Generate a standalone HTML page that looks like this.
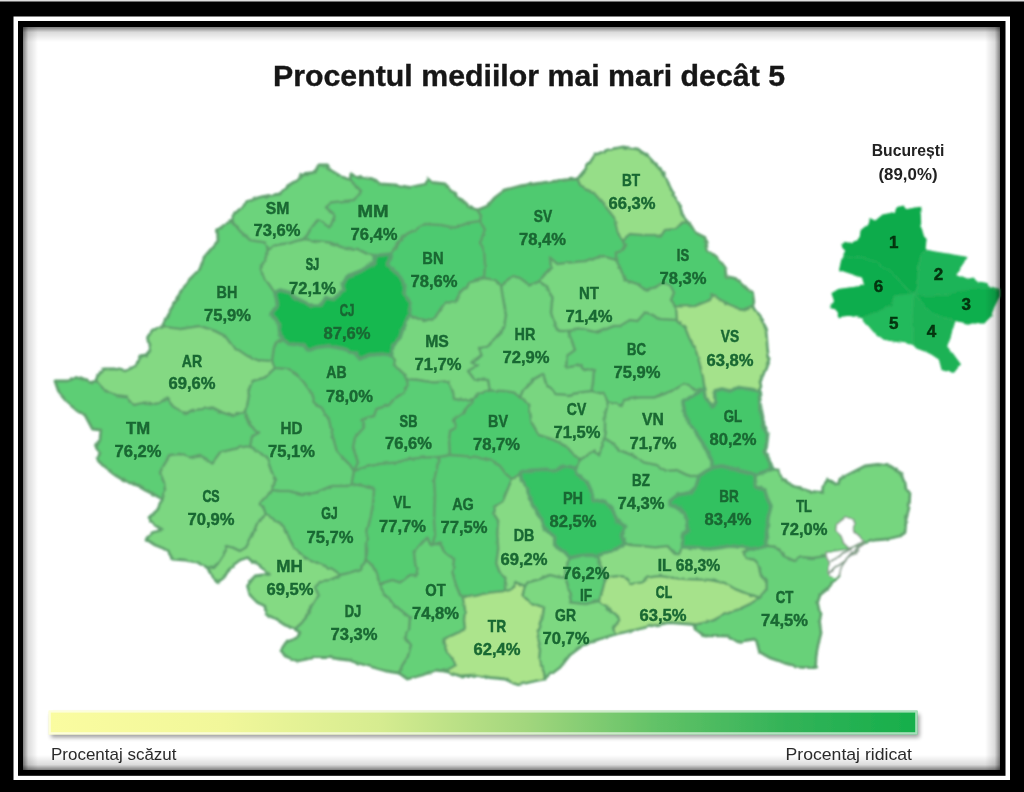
<!DOCTYPE html>
<html><head><meta charset="utf-8"><title>Procentul mediilor mai mari decat 5</title>
<style>
html,body{margin:0;padding:0;background:#000;}
body{width:1024px;height:792px;overflow:hidden;position:relative;font-family:"Liberation Sans",sans-serif;}
svg{position:absolute;left:0;top:0;display:block;}
text{font-family:"Liberation Sans",sans-serif;}
.c{font-weight:bold;font-size:17px;fill:#1a6833;stroke:#1a6833;stroke-width:0.45px;text-anchor:middle;}
.p{font-weight:bold;font-size:17px;fill:#1a6833;stroke:#1a6833;stroke-width:0.45px;text-anchor:middle;}
.n{font-weight:bold;font-size:17px;fill:#07340f;stroke:#07340f;stroke-width:0.5px;text-anchor:middle;}
</style></head><body>
<svg width="1024" height="792" viewBox="0 0 1024 792">
<defs>
<linearGradient id="lg" x1="0" x2="1" y1="0" y2="0">
<stop offset="0" stop-color="#fafca0"/><stop offset="0.2" stop-color="#f1f79a"/><stop offset="0.38" stop-color="#d6ec90"/>
<stop offset="0.55" stop-color="#a2d67d"/><stop offset="0.7" stop-color="#62c267"/><stop offset="0.85" stop-color="#33b358"/><stop offset="1" stop-color="#16af4b"/>
</linearGradient>
<linearGradient id="sT" x1="0" x2="0" y1="0" y2="1"><stop offset="0" stop-color="#000" stop-opacity="0.5"/><stop offset="0.35" stop-color="#000" stop-opacity="0.14"/><stop offset="1" stop-color="#000" stop-opacity="0"/></linearGradient>
<linearGradient id="sB" x1="0" x2="0" y1="1" y2="0"><stop offset="0" stop-color="#000" stop-opacity="0.5"/><stop offset="0.35" stop-color="#000" stop-opacity="0.14"/><stop offset="1" stop-color="#000" stop-opacity="0"/></linearGradient>
<linearGradient id="sL" x1="0" x2="1" y1="0" y2="0"><stop offset="0" stop-color="#000" stop-opacity="0.5"/><stop offset="0.35" stop-color="#000" stop-opacity="0.14"/><stop offset="1" stop-color="#000" stop-opacity="0"/></linearGradient>
<linearGradient id="sR" x1="1" x2="0" y1="0" y2="0"><stop offset="0" stop-color="#000" stop-opacity="0.5"/><stop offset="0.35" stop-color="#000" stop-opacity="0.14"/><stop offset="1" stop-color="#000" stop-opacity="0"/></linearGradient>
<filter id="bl" x="-5%" y="-5%" width="110%" height="110%"><feTurbulence type="fractalNoise" baseFrequency="0.11" numOctaves="2" seed="7" result="n"/><feDisplacementMap in="SourceGraphic" in2="n" scale="3.2" xChannelSelector="R" yChannelSelector="G" result="d"/><feGaussianBlur in="d" stdDeviation="0.85"/></filter>
<filter id="bt" x="-5%" y="-20%" width="110%" height="140%"><feGaussianBlur stdDeviation="0.45"/></filter>
<filter id="sh" x="-5%" y="-50%" width="110%" height="250%"><feGaussianBlur stdDeviation="2"/></filter>
</defs>
<!-- frame -->
<rect x="0" y="0" width="1024" height="792" fill="#000"/>
<rect x="0" y="0" width="1024" height="1.5" fill="#ddd"/>
<rect x="13.5" y="16.5" width="996.5" height="763.5" fill="#fff"/>
<rect x="18" y="21" width="987.5" height="754.8" fill="#000"/>
<rect x="23" y="27" width="977" height="743" fill="#fff"/>
<text x="529" y="86.2" text-anchor="middle" font-weight="bold" font-size="29.8px" fill="#161616" stroke="#161616" stroke-width="0.35" textLength="512" lengthAdjust="spacingAndGlyphs" filter="url(#bt)">Procentul mediilor mai mari decât 5</text>
<g filter="url(#bl)">
<path d="M231.0 220.0 L232.5 216.0 L247.5 202.0 L260.0 197.0 L280.0 194.0 L287.5 186.0 L299.0 179.0 L301.0 174.0 L315.0 172.5 L319.0 165.0 L327.5 165.0 L330.0 170.0 L340.0 176.0 L350.0 180.0 L361.0 191.0 L354.0 200.0 L330.0 202.5 L326.0 207.5 L335.0 215.0 L330.0 227.5 L317.5 220.0 L310.0 230.0 L305.0 239.0 L290.0 243.0 L275.0 245.0 L269.0 250.0 L265.0 242.5 L250.0 240.0 L240.0 231.0Z" fill="#6cd37b" stroke="#6cd37b" stroke-width="0.8" stroke-linejoin="round"/>
<path d="M350.0 180.0 L351.0 174.0 L355.0 176.0 L372.5 179.0 L380.0 184.0 L395.0 185.0 L410.0 187.5 L425.0 184.0 L429.0 179.0 L432.5 182.5 L445.0 184.0 L455.0 194.0 L465.0 202.5 L470.0 207.5 L477.5 210.0 L481.0 216.0 L480.0 221.0 L470.0 222.5 L455.0 227.5 L440.0 225.0 L425.0 224.0 L415.0 230.0 L402.5 236.0 L397.5 245.0 L391.0 254.0 L376.0 255.5 L367.5 254.0 L357.5 249.0 L342.5 247.5 L330.0 242.5 L315.0 241.0 L305.0 239.0 L310.0 230.0 L317.5 220.0 L330.0 227.5 L335.0 215.0 L326.0 207.5 L330.0 202.5 L354.0 200.0 L361.0 191.0Z" fill="#5cce75" stroke="#5cce75" stroke-width="0.8" stroke-linejoin="round"/>
<path d="M477.5 210.0 L487.5 206.0 L495.0 197.5 L505.0 190.0 L520.0 186.0 L545.0 182.5 L570.0 179.5 L577.5 179.0 L580.0 185.0 L595.0 194.0 L605.0 206.0 L614.0 217.5 L617.5 232.5 L622.5 240.0 L626.0 245.0 L622.5 251.0 L616.0 252.5 L616.0 260.0 L607.5 257.5 L600.0 256.0 L585.0 261.0 L570.0 262.5 L557.5 264.0 L550.0 257.5 L551.0 267.5 L544.0 275.0 L540.0 281.0 L530.0 285.5 L520.0 278.0 L512.5 276.0 L501.0 285.0 L495.0 280.0 L484.0 278.0 L485.0 265.0 L484.0 250.0 L480.0 242.5 L485.0 230.0 L480.0 221.0 L481.0 216.0Z" fill="#50ca6f" stroke="#50ca6f" stroke-width="0.8" stroke-linejoin="round"/>
<path d="M577.5 179.0 L585.0 170.0 L590.0 162.5 L595.0 155.0 L607.5 150.0 L622.5 147.0 L637.5 149.0 L647.5 156.0 L656.0 165.0 L665.0 175.0 L670.0 187.5 L679.0 204.0 L682.5 215.0 L689.0 222.5 L682.5 222.5 L676.0 229.0 L665.0 230.0 L660.0 237.5 L655.0 235.0 L642.5 235.0 L630.0 234.0 L622.5 240.0 L617.5 232.5 L614.0 217.5 L605.0 206.0 L595.0 194.0 L580.0 185.0Z" fill="#96de88" stroke="#96de88" stroke-width="0.8" stroke-linejoin="round"/>
<path d="M689.0 222.5 L695.0 232.5 L705.0 237.5 L707.5 250.0 L717.5 257.5 L725.0 267.5 L726.0 276.0 L736.0 279.0 L745.0 287.5 L752.5 292.5 L754.0 303.0 L752.5 306.0 L742.5 310.0 L732.5 306.0 L722.5 301.0 L712.5 295.0 L710.0 300.0 L695.0 306.0 L676.0 306.5 L671.0 300.0 L674.0 292.5 L670.0 285.0 L664.0 282.5 L655.0 287.5 L645.0 290.0 L637.5 284.0 L625.0 280.0 L620.0 267.5 L616.0 260.0 L616.0 252.5 L622.5 251.0 L626.0 245.0 L622.5 240.0 L630.0 234.0 L642.5 235.0 L655.0 235.0 L660.0 237.5 L665.0 230.0 L676.0 229.0 L682.5 222.5Z" fill="#50cb6f" stroke="#50cb6f" stroke-width="0.8" stroke-linejoin="round"/>
<path d="M752.5 306.0 L754.0 309.0 L762.5 320.0 L766.0 330.0 L767.5 350.0 L769.0 359.0 L764.0 372.5 L760.0 382.5 L761.0 386.0 L759.0 391.0 L750.0 389.0 L737.5 387.5 L730.0 391.0 L722.0 389.0 L714.5 391.0 L715.0 401.0 L712.0 406.0 L708.5 403.0 L706.0 396.0 L704.5 389.0 L703.0 377.5 L700.0 365.0 L696.5 352.5 L689.0 337.5 L685.0 327.5 L677.0 320.0 L676.0 306.5 L695.0 306.0 L710.0 300.0 L712.5 295.0 L722.5 301.0 L732.5 306.0 L742.5 310.0Z" fill="#a4e28b" stroke="#a4e28b" stroke-width="0.8" stroke-linejoin="round"/>
<path d="M759.0 391.0 L760.0 405.0 L762.5 417.5 L764.0 427.5 L767.5 435.0 L766.0 447.5 L764.0 451.0 L769.0 460.0 L772.5 469.0 L764.0 472.0 L755.0 475.0 L746.5 472.5 L734.0 469.0 L721.5 466.0 L713.0 467.5 L711.5 460.0 L704.0 445.0 L694.0 430.0 L685.0 415.0 L683.0 401.0 L694.0 395.0 L704.5 389.0 L706.0 396.0 L708.5 403.0 L712.0 406.0 L715.0 401.0 L714.5 391.0 L722.0 389.0 L730.0 391.0 L737.5 387.5 L750.0 389.0Z" fill="#45c76a" stroke="#45c76a" stroke-width="0.8" stroke-linejoin="round"/>
<path d="M772.5 469.0 L777.5 470.0 L782.5 480.0 L795.0 486.5 L810.0 491.5 L822.5 492.5 L823.0 486.0 L827.5 480.0 L838.0 485.0 L840.0 479.0 L852.5 472.5 L865.0 466.0 L877.5 464.5 L890.0 466.0 L900.0 472.5 L905.0 482.5 L906.0 490.0 L910.0 492.5 L909.0 507.5 L906.0 520.0 L905.0 532.5 L900.0 536.0 L887.5 539.0 L875.0 540.0 L865.0 542.5 L859.0 547.0 L854.0 555.0 L847.0 561.0 L841.0 566.0 L829.0 554.0 L825.0 556.0 L813.0 558.0 L801.0 557.0 L795.0 561.0 L788.9 559.0 L782.8 554.0 L775.0 546.5 L766.0 546.0 L766.5 535.0 L768.0 517.5 L771.0 506.0 L767.0 498.0 L765.0 490.0 L755.5 487.0 L755.0 475.0 L764.0 472.0Z" fill="#76d67f" stroke="#76d67f" stroke-width="0.8" stroke-linejoin="round"/>
<path d="M841.0 566.0 L839.0 576.0 L832.5 582.5 L827.5 589.0 L820.0 595.0 L817.5 602.5 L819.0 610.0 L821.0 615.0 L819.5 621.0 L821.0 633.0 L818.0 645.0 L816.0 657.0 L815.5 667.5 L801.0 667.3 L785.0 663.0 L770.7 658.2 L759.6 652.1 L756.6 641.0 L754.5 639.0 L745.0 640.5 L738.4 642.0 L728.3 636.0 L714.1 635.5 L705.0 636.0 L696.0 630.0 L695.0 624.5 L712.0 620.8 L724.0 614.7 L740.0 608.7 L750.0 604.0 L760.0 597.5 L766.7 588.5 L766.7 583.0 L760.6 574.0 L758.6 564.0 L754.5 560.0 L745.5 558.0 L743.5 553.0 L750.0 549.0 L758.0 548.0 L766.0 546.0 L775.0 546.5 L782.8 554.0 L788.9 559.0 L795.0 561.0 L801.0 557.0 L813.0 558.0 L825.0 556.0 L829.0 554.0Z" fill="#67d179" stroke="#67d179" stroke-width="0.8" stroke-linejoin="round"/>
<path d="M695.0 624.5 L670.0 622.5 L655.0 625.0 L635.0 630.0 L616.0 634.0 L614.0 627.5 L620.0 619.0 L612.5 612.5 L606.0 606.0 L599.0 601.0 L602.5 590.0 L605.0 580.0 L607.0 577.5 L617.5 576.0 L627.5 579.0 L631.0 584.0 L642.5 582.5 L647.5 577.5 L660.0 576.0 L670.0 577.5 L685.0 579.0 L710.0 580.0 L725.0 583.0 L735.0 589.0 L747.5 594.0 L760.0 597.5 L750.0 604.0 L740.0 608.7 L724.0 614.7 L712.0 620.8Z" fill="#a6e28b" stroke="#a6e28b" stroke-width="0.8" stroke-linejoin="round"/>
<path d="M616.0 634.0 L605.0 637.5 L592.5 641.0 L580.0 647.5 L570.0 655.0 L560.0 667.5 L550.0 675.0 L545.0 679.0 L544.0 672.5 L539.0 660.0 L540.0 650.0 L537.5 640.0 L539.0 630.0 L542.5 617.5 L544.0 607.5 L530.0 602.5 L522.5 595.0 L525.0 586.0 L527.5 582.5 L540.0 579.0 L550.0 575.0 L560.0 577.5 L565.0 577.5 L569.0 590.0 L571.0 602.5 L585.0 604.0 L599.0 601.0 L606.0 606.0 L612.5 612.5 L620.0 619.0 L614.0 627.5Z" fill="#7dd881" stroke="#7dd881" stroke-width="0.8" stroke-linejoin="round"/>
<path d="M545.0 679.0 L535.0 681.0 L517.5 685.0 L505.0 679.0 L490.0 677.5 L475.0 675.0 L460.0 676.0 L445.0 671.0 L447.5 670.0 L456.0 665.0 L446.0 650.0 L444.0 639.0 L455.0 634.0 L465.0 629.0 L464.0 620.0 L465.0 610.0 L462.5 596.0 L475.0 596.0 L490.0 592.5 L505.0 591.0 L510.0 590.0 L516.0 582.5 L525.0 586.0 L522.5 595.0 L530.0 602.5 L544.0 607.5 L542.5 617.5 L539.0 630.0 L537.5 640.0 L540.0 650.0 L539.0 660.0 L544.0 672.5Z" fill="#ace48c" stroke="#ace48c" stroke-width="0.8" stroke-linejoin="round"/>
<path d="M445.0 671.0 L435.0 670.0 L422.5 675.0 L407.5 679.0 L399.0 673.0 L402.5 665.0 L407.5 657.5 L411.0 645.0 L405.0 637.5 L409.0 630.0 L410.0 617.5 L397.5 607.5 L385.0 595.0 L379.0 584.0 L392.5 580.0 L400.0 582.5 L410.0 575.0 L417.5 575.0 L415.0 562.5 L414.0 552.5 L420.0 545.0 L427.5 537.5 L430.0 544.0 L432.5 545.0 L440.0 542.5 L445.0 552.5 L454.0 559.0 L452.5 572.5 L456.0 585.0 L460.0 595.0 L462.5 596.0 L465.0 610.0 L464.0 620.0 L465.0 629.0 L455.0 634.0 L444.0 639.0 L446.0 650.0 L456.0 665.0 L447.5 670.0Z" fill="#65d178" stroke="#65d178" stroke-width="0.8" stroke-linejoin="round"/>
<path d="M399.0 673.0 L386.0 671.0 L365.0 665.0 L347.5 660.0 L330.0 657.5 L315.0 657.5 L297.5 661.0 L285.0 656.0 L281.0 650.0 L286.0 642.5 L297.5 637.5 L300.0 632.5 L295.0 629.0 L305.0 620.0 L309.0 610.0 L315.0 600.0 L319.0 595.0 L315.0 587.5 L321.0 581.0 L330.0 580.0 L341.0 575.0 L350.0 572.5 L361.0 569.0 L366.0 560.0 L372.0 565.0 L377.5 575.0 L379.0 584.0 L385.0 595.0 L397.5 607.5 L410.0 617.5 L409.0 630.0 L405.0 637.5 L411.0 645.0 L407.5 657.5 L402.5 665.0Z" fill="#6ed37c" stroke="#6ed37c" stroke-width="0.8" stroke-linejoin="round"/>
<path d="M295.0 629.0 L285.0 625.0 L277.5 620.0 L266.0 614.0 L265.0 606.0 L257.5 602.5 L250.0 595.0 L247.5 586.0 L250.0 582.5 L255.0 576.0 L262.5 575.0 L270.0 575.0 L265.0 570.0 L255.0 562.5 L247.5 557.5 L240.0 560.0 L230.0 567.5 L224.0 577.5 L217.5 582.5 L212.5 577.5 L207.5 567.5 L214.0 568.0 L217.5 564.0 L224.0 554.0 L226.0 546.0 L232.5 547.5 L240.0 551.0 L246.0 547.5 L252.5 535.0 L257.5 522.5 L266.0 514.5 L275.0 520.0 L285.0 527.5 L290.0 540.0 L295.0 549.0 L305.0 557.5 L320.0 564.0 L332.5 569.0 L341.0 575.0 L330.0 580.0 L321.0 581.0 L315.0 587.5 L319.0 595.0 L315.0 600.0 L309.0 610.0 L305.0 620.0Z" fill="#84da83" stroke="#84da83" stroke-width="0.8" stroke-linejoin="round"/>
<path d="M207.5 567.5 L197.5 562.5 L185.0 560.0 L172.5 559.0 L167.5 550.0 L155.0 545.0 L146.0 539.0 L152.5 532.5 L162.5 530.0 L155.0 525.0 L149.0 517.5 L157.5 510.0 L162.5 499.0 L165.0 490.0 L164.0 482.5 L160.0 472.5 L164.0 465.0 L170.0 455.0 L180.0 454.0 L190.0 457.5 L200.0 455.0 L205.0 460.0 L212.5 462.5 L220.0 452.5 L230.0 450.0 L240.0 447.5 L250.0 446.0 L260.0 452.5 L267.5 460.0 L271.0 470.0 L275.0 480.0 L272.5 490.0 L265.0 497.5 L260.0 503.0 L264.0 509.0 L266.0 514.5 L257.5 522.5 L252.5 535.0 L246.0 547.5 L240.0 551.0 L232.5 547.5 L226.0 546.0 L224.0 554.0 L217.5 564.0 L214.0 568.0Z" fill="#7cd781" stroke="#7cd781" stroke-width="0.8" stroke-linejoin="round"/>
<path d="M162.5 499.0 L155.0 495.0 L145.0 490.0 L132.5 482.5 L125.0 481.0 L115.0 475.0 L105.0 467.5 L97.5 460.0 L100.0 452.5 L96.0 447.5 L100.0 440.0 L101.0 430.0 L92.5 429.0 L85.0 415.0 L77.5 411.0 L67.5 402.5 L59.0 392.5 L55.0 381.0 L67.5 381.0 L77.5 377.5 L90.0 382.5 L96.0 381.0 L105.0 390.0 L115.0 396.0 L127.5 397.5 L134.0 405.0 L145.0 402.5 L157.5 404.0 L167.5 397.5 L172.5 406.0 L180.0 411.0 L185.0 414.0 L192.5 410.0 L202.5 409.0 L212.5 407.5 L222.5 412.5 L232.5 416.0 L245.0 411.0 L246.0 417.5 L252.5 427.5 L259.0 432.5 L252.5 436.0 L250.0 446.0 L240.0 447.5 L230.0 450.0 L220.0 452.5 L212.5 462.5 L205.0 460.0 L200.0 455.0 L190.0 457.5 L180.0 454.0 L170.0 455.0 L164.0 465.0 L160.0 472.5 L164.0 482.5 L165.0 490.0Z" fill="#5dce75" stroke="#5dce75" stroke-width="0.8" stroke-linejoin="round"/>
<path d="M96.0 381.0 L97.5 377.5 L102.5 369.0 L115.0 369.0 L125.0 371.0 L136.0 366.0 L140.0 356.0 L146.0 355.0 L150.0 350.0 L147.5 337.5 L152.5 330.0 L160.0 328.0 L165.0 327.0 L180.0 329.0 L200.0 326.0 L215.0 331.0 L225.0 336.0 L232.5 346.0 L247.5 356.0 L257.5 360.0 L272.0 361.0 L275.0 368.0 L265.0 377.5 L252.5 381.0 L247.5 392.5 L249.0 402.5 L245.0 411.0 L232.5 416.0 L222.5 412.5 L212.5 407.5 L202.5 409.0 L192.5 410.0 L185.0 414.0 L180.0 411.0 L172.5 406.0 L167.5 397.5 L157.5 404.0 L145.0 402.5 L134.0 405.0 L127.5 397.5 L115.0 396.0 L105.0 390.0Z" fill="#84d983" stroke="#84d983" stroke-width="0.8" stroke-linejoin="round"/>
<path d="M165.0 327.0 L162.5 325.0 L167.5 315.0 L176.0 301.0 L185.0 284.0 L200.0 269.0 L204.0 257.5 L218.0 241.0 L217.5 230.0 L231.0 220.0 L240.0 231.0 L250.0 240.0 L265.0 242.5 L269.0 250.0 L260.0 270.0 L266.0 280.0 L275.0 293.0 L277.5 305.0 L271.0 314.0 L279.0 325.0 L280.0 335.0 L284.0 340.0 L276.5 341.0 L274.0 347.5 L272.0 361.0 L257.5 360.0 L247.5 356.0 L232.5 346.0 L225.0 336.0 L215.0 331.0 L200.0 326.0 L180.0 329.0Z" fill="#5fcf76" stroke="#5fcf76" stroke-width="0.8" stroke-linejoin="round"/>
<path d="M269.0 250.0 L275.0 245.0 L290.0 243.0 L305.0 239.0 L315.0 241.0 L330.0 242.5 L342.5 247.5 L357.5 249.0 L367.5 254.0 L376.0 255.5 L374.0 262.5 L362.5 270.0 L347.5 276.0 L342.5 285.0 L344.0 290.0 L332.5 300.0 L326.0 297.5 L321.0 305.0 L310.0 305.0 L295.0 297.5 L290.0 292.5 L280.0 290.0 L275.0 293.0 L266.0 280.0 L260.0 270.0Z" fill="#75d57e" stroke="#75d57e" stroke-width="0.8" stroke-linejoin="round"/>
<path d="M376.0 255.5 L374.0 262.5 L362.5 270.0 L347.5 276.0 L342.5 285.0 L344.0 290.0 L332.5 300.0 L326.0 297.5 L321.0 305.0 L310.0 305.0 L295.0 297.5 L290.0 292.5 L280.0 290.0 L275.0 293.0 L277.5 305.0 L271.0 314.0 L279.0 325.0 L280.0 335.0 L284.0 340.0 L289.0 344.0 L304.0 345.0 L308.0 351.0 L316.5 347.5 L329.0 346.0 L344.0 349.0 L356.5 354.0 L360.0 359.0 L369.0 355.0 L386.5 354.0 L391.5 356.0 L393.0 345.0 L400.0 337.5 L402.5 330.0 L409.0 315.0 L411.0 302.5 L404.0 295.0 L405.0 285.0 L400.0 276.0 L387.5 265.0 L391.0 254.0Z" fill="#16b850" stroke="#16b850" stroke-width="0.8" stroke-linejoin="round"/>
<path d="M391.0 254.0 L397.5 245.0 L402.5 236.0 L415.0 230.0 L425.0 224.0 L440.0 225.0 L455.0 227.5 L470.0 222.5 L480.0 221.0 L485.0 230.0 L480.0 242.5 L484.0 250.0 L485.0 265.0 L484.0 278.0 L470.0 282.5 L460.0 292.5 L455.0 302.5 L445.0 302.5 L435.0 317.5 L424.0 321.0 L409.0 315.0 L411.0 302.5 L404.0 295.0 L405.0 285.0 L400.0 276.0 L387.5 265.0Z" fill="#4eca6f" stroke="#4eca6f" stroke-width="0.8" stroke-linejoin="round"/>
<path d="M484.0 278.0 L495.0 280.0 L501.0 285.0 L502.5 295.0 L506.0 315.0 L504.0 327.5 L499.0 335.0 L489.0 345.0 L479.0 349.0 L481.5 355.0 L471.5 362.5 L478.0 365.0 L468.0 371.0 L474.0 379.0 L488.0 380.0 L490.0 390.5 L479.0 394.0 L474.0 399.0 L464.0 400.0 L454.0 399.0 L453.0 392.5 L449.0 381.0 L434.0 382.5 L419.0 380.0 L406.5 379.0 L400.0 370.0 L394.0 366.0 L395.0 360.0 L391.5 356.0 L393.0 345.0 L400.0 337.5 L402.5 330.0 L409.0 315.0 L424.0 321.0 L435.0 317.5 L445.0 302.5 L455.0 302.5 L460.0 292.5 L470.0 282.5Z" fill="#77d67f" stroke="#77d67f" stroke-width="0.8" stroke-linejoin="round"/>
<path d="M501.0 285.0 L512.5 276.0 L520.0 278.0 L530.0 285.5 L540.0 281.0 L546.0 287.5 L552.5 297.5 L551.0 312.5 L555.0 326.0 L559.0 331.0 L567.5 331.0 L571.5 340.0 L575.0 350.0 L566.5 356.0 L566.5 367.5 L581.5 365.0 L585.0 371.0 L594.0 369.0 L593.0 382.5 L591.5 391.0 L579.0 392.5 L569.0 395.0 L556.5 394.0 L546.5 385.0 L543.0 374.0 L534.0 379.0 L523.0 390.0 L520.0 397.5 L514.0 392.5 L504.0 391.0 L490.0 390.5 L488.0 380.0 L474.0 379.0 L468.0 371.0 L478.0 365.0 L471.5 362.5 L481.5 355.0 L479.0 349.0 L489.0 345.0 L499.0 335.0 L504.0 327.5 L506.0 315.0 L502.5 295.0Z" fill="#70d47d" stroke="#70d47d" stroke-width="0.8" stroke-linejoin="round"/>
<path d="M540.0 281.0 L546.0 287.5 L552.5 297.5 L551.0 312.5 L555.0 326.0 L559.0 331.0 L567.5 331.0 L582.5 329.0 L597.5 332.5 L614.0 326.0 L620.0 326.0 L630.0 320.0 L637.5 321.0 L645.0 312.5 L652.5 315.0 L660.0 319.0 L677.0 320.0 L676.0 306.5 L671.0 300.0 L674.0 292.5 L670.0 285.0 L664.0 282.5 L655.0 287.5 L645.0 290.0 L637.5 284.0 L625.0 280.0 L620.0 267.5 L616.0 260.0 L607.5 257.5 L600.0 256.0 L585.0 261.0 L570.0 262.5 L557.5 264.0 L550.0 257.5 L551.0 267.5 L544.0 275.0Z" fill="#79d780" stroke="#79d780" stroke-width="0.8" stroke-linejoin="round"/>
<path d="M567.5 331.0 L571.5 340.0 L575.0 350.0 L566.5 356.0 L566.5 367.5 L581.5 365.0 L585.0 371.0 L594.0 369.0 L593.0 382.5 L591.5 391.0 L604.0 394.0 L608.0 402.5 L616.5 404.0 L621.5 406.0 L624.0 400.0 L639.0 397.5 L654.0 397.5 L664.0 394.0 L674.0 390.0 L684.0 384.0 L694.0 389.0 L704.5 389.0 L703.0 377.5 L700.0 365.0 L696.5 352.5 L689.0 337.5 L685.0 327.5 L677.0 320.0 L660.0 319.0 L652.5 315.0 L645.0 312.5 L637.5 321.0 L630.0 320.0 L620.0 326.0 L614.0 326.0 L597.5 332.5 L582.5 329.0Z" fill="#5fcf76" stroke="#5fcf76" stroke-width="0.8" stroke-linejoin="round"/>
<path d="M699.0 476.0 L706.5 471.0 L713.0 467.5 L711.5 460.0 L704.0 445.0 L694.0 430.0 L685.0 415.0 L683.0 401.0 L694.0 395.0 L704.5 389.0 L694.0 389.0 L684.0 384.0 L674.0 390.0 L664.0 394.0 L654.0 397.5 L639.0 397.5 L624.0 400.0 L621.5 406.0 L616.5 404.0 L608.0 402.5 L605.0 415.0 L605.0 430.0 L604.0 437.5 L611.5 442.5 L619.0 450.0 L634.0 456.0 L644.0 462.5 L656.5 465.0 L666.5 471.0 L676.5 470.0 L689.0 476.0Z" fill="#77d67f" stroke="#77d67f" stroke-width="0.8" stroke-linejoin="round"/>
<path d="M699.0 476.0 L696.0 487.0 L690.0 492.5 L677.5 495.0 L670.0 501.0 L670.0 505.0 L677.5 507.5 L685.0 512.5 L687.5 530.0 L682.5 535.0 L682.5 547.0 L679.0 554.0 L675.0 554.0 L667.5 546.0 L655.0 547.5 L642.5 546.0 L630.0 545.0 L625.0 543.5 L621.5 535.0 L625.5 527.0 L617.4 520.8 L612.0 508.7 L605.0 502.5 L593.0 499.5 L591.0 490.5 L587.0 481.5 L577.0 474.0 L576.0 468.5 L579.0 461.0 L587.0 455.0 L593.0 451.0 L599.0 455.0 L603.0 444.0 L604.0 437.5 L611.5 442.5 L619.0 450.0 L634.0 456.0 L644.0 462.5 L656.5 465.0 L666.5 471.0 L676.5 470.0 L689.0 476.0Z" fill="#68d27a" stroke="#68d27a" stroke-width="0.8" stroke-linejoin="round"/>
<path d="M682.5 547.0 L695.0 547.5 L710.0 549.0 L730.0 546.0 L745.0 547.5 L750.0 549.0 L758.0 548.0 L766.0 546.0 L766.5 535.0 L768.0 517.5 L771.0 506.0 L767.0 498.0 L765.0 490.0 L755.5 487.0 L755.0 475.0 L746.5 472.5 L734.0 469.0 L721.5 466.0 L713.0 467.5 L706.5 471.0 L699.0 476.0 L696.0 487.0 L690.0 492.5 L677.5 495.0 L670.0 501.0 L670.0 505.0 L677.5 507.5 L685.0 512.5 L687.5 530.0 L682.5 535.0Z" fill="#31c160" stroke="#31c160" stroke-width="0.8" stroke-linejoin="round"/>
<path d="M598.5 555.5 L600.0 565.0 L606.0 575.0 L607.0 577.5 L617.5 576.0 L627.5 579.0 L631.0 584.0 L642.5 582.5 L647.5 577.5 L660.0 576.0 L670.0 577.5 L685.0 579.0 L710.0 580.0 L725.0 583.0 L735.0 589.0 L747.5 594.0 L760.0 597.5 L766.7 588.5 L766.7 583.0 L760.6 574.0 L758.6 564.0 L754.5 560.0 L745.5 558.0 L743.5 553.0 L750.0 549.0 L745.0 547.5 L730.0 546.0 L710.0 549.0 L695.0 547.5 L682.5 547.0 L679.0 554.0 L675.0 554.0 L667.5 546.0 L655.0 547.5 L642.5 546.0 L630.0 545.0 L625.0 543.5 L617.5 548.5 L611.0 550.5 L604.0 553.5Z" fill="#8bdb85" stroke="#8bdb85" stroke-width="0.8" stroke-linejoin="round"/>
<path d="M565.0 577.5 L566.0 566.0 L570.0 558.0 L577.0 556.0 L589.0 555.0 L598.5 555.5 L600.0 565.0 L606.0 575.0 L607.0 577.5 L605.0 580.0 L602.5 590.0 L599.0 601.0 L585.0 604.0 L571.0 602.5 L569.0 590.0Z" fill="#5dce75" stroke="#5dce75" stroke-width="0.8" stroke-linejoin="round"/>
<path d="M520.5 473.0 L521.4 480.4 L527.5 487.5 L528.5 496.6 L534.5 506.7 L540.6 518.8 L544.6 528.9 L554.7 537.0 L554.7 545.0 L564.8 552.0 L570.0 558.0 L577.0 556.0 L589.0 555.0 L598.5 555.5 L604.0 553.5 L611.0 550.5 L617.5 548.5 L625.0 543.5 L621.5 535.0 L625.5 527.0 L617.4 520.8 L612.0 508.7 L605.0 502.5 L593.0 499.5 L591.0 490.5 L587.0 481.5 L577.0 474.0 L576.0 468.5 L568.9 466.3 L562.8 466.3 L556.8 471.3 L546.7 469.3 L530.5 470.3Z" fill="#36c363" stroke="#36c363" stroke-width="0.8" stroke-linejoin="round"/>
<path d="M512.0 479.0 L506.3 492.5 L502.2 502.6 L494.1 506.7 L493.1 512.7 L498.2 520.8 L497.2 532.9 L498.2 549.1 L496.2 563.2 L499.2 571.3 L505.3 577.4 L505.0 591.0 L510.0 590.0 L516.0 582.5 L525.0 586.0 L527.5 582.5 L540.0 579.0 L550.0 575.0 L560.0 577.5 L565.0 577.5 L566.0 566.0 L570.0 558.0 L564.8 552.0 L554.7 545.0 L554.7 537.0 L544.6 528.9 L540.6 518.8 L534.5 506.7 L528.5 496.6 L527.5 487.5 L521.4 480.4 L520.5 473.0 L516.0 477.0Z" fill="#86da84" stroke="#86da84" stroke-width="0.8" stroke-linejoin="round"/>
<path d="M439.0 457.0 L450.0 455.0 L464.0 456.0 L481.5 457.5 L492.0 460.0 L500.0 466.0 L506.0 474.0 L512.0 479.0 L506.3 492.5 L502.2 502.6 L494.1 506.7 L493.1 512.7 L498.2 520.8 L497.2 532.9 L498.2 549.1 L496.2 563.2 L499.2 571.3 L505.3 577.4 L505.0 591.0 L490.0 592.5 L475.0 596.0 L462.5 596.0 L460.0 595.0 L456.0 585.0 L452.5 572.5 L454.0 559.0 L445.0 552.5 L440.0 542.5 L432.5 545.0 L435.0 535.0 L434.0 520.0 L435.0 495.0 L434.0 480.0 L436.5 470.0Z" fill="#55cc72" stroke="#55cc72" stroke-width="0.8" stroke-linejoin="round"/>
<path d="M354.0 471.0 L364.0 467.5 L379.0 464.0 L396.5 462.5 L409.0 459.0 L424.0 457.5 L439.0 457.0 L436.5 470.0 L434.0 480.0 L435.0 495.0 L434.0 520.0 L435.0 535.0 L432.5 545.0 L430.0 544.0 L427.5 537.5 L420.0 545.0 L414.0 552.5 L415.0 562.5 L417.5 575.0 L410.0 575.0 L400.0 582.5 L392.5 580.0 L379.0 584.0 L377.5 575.0 L372.0 565.0 L366.0 560.0 L366.0 545.0 L367.5 530.0 L371.0 515.0 L373.0 505.0 L374.0 489.0 L364.0 486.0 L351.5 484.0Z" fill="#54cc71" stroke="#54cc71" stroke-width="0.8" stroke-linejoin="round"/>
<path d="M351.5 484.0 L346.5 486.0 L331.5 486.0 L316.5 492.5 L301.5 494.0 L289.0 491.0 L280.0 491.0 L272.5 490.0 L265.0 497.5 L260.0 503.0 L264.0 509.0 L266.0 514.5 L275.0 520.0 L285.0 527.5 L290.0 540.0 L295.0 549.0 L305.0 557.5 L320.0 564.0 L332.5 569.0 L341.0 575.0 L350.0 572.5 L361.0 569.0 L366.0 560.0 L366.0 545.0 L367.5 530.0 L371.0 515.0 L373.0 505.0 L374.0 489.0 L364.0 486.0Z" fill="#60cf76" stroke="#60cf76" stroke-width="0.8" stroke-linejoin="round"/>
<path d="M275.0 368.0 L265.0 377.5 L252.5 381.0 L247.5 392.5 L249.0 402.5 L245.0 411.0 L246.0 417.5 L252.5 427.5 L259.0 432.5 L252.5 436.0 L250.0 446.0 L260.0 452.5 L267.5 460.0 L271.0 470.0 L275.0 480.0 L272.5 490.0 L280.0 491.0 L289.0 491.0 L301.5 494.0 L316.5 492.5 L331.5 486.0 L346.5 486.0 L351.5 484.0 L354.0 471.0 L350.0 465.0 L344.0 459.0 L336.5 450.0 L333.0 437.5 L329.0 420.0 L323.0 410.0 L314.0 402.5 L310.0 391.0 L304.0 382.5 L296.5 374.0 L289.0 369.0Z" fill="#63d078" stroke="#63d078" stroke-width="0.8" stroke-linejoin="round"/>
<path d="M284.0 340.0 L289.0 344.0 L304.0 345.0 L308.0 351.0 L316.5 347.5 L329.0 346.0 L344.0 349.0 L356.5 354.0 L360.0 359.0 L369.0 355.0 L386.5 354.0 L391.5 356.0 L395.0 360.0 L394.0 366.0 L400.0 370.0 L406.5 379.0 L408.0 385.0 L404.0 392.5 L394.0 399.0 L389.0 405.0 L376.5 409.0 L374.0 416.0 L368.0 417.5 L361.5 420.0 L364.0 427.5 L355.0 437.5 L353.0 447.5 L358.0 462.5 L354.0 471.0 L350.0 465.0 L344.0 459.0 L336.5 450.0 L333.0 437.5 L329.0 420.0 L323.0 410.0 L314.0 402.5 L310.0 391.0 L304.0 382.5 L296.5 374.0 L289.0 369.0 L275.0 368.0 L272.0 361.0 L274.0 347.5 L276.5 341.0Z" fill="#52cb70" stroke="#52cb70" stroke-width="0.8" stroke-linejoin="round"/>
<path d="M354.0 471.0 L358.0 462.5 L353.0 447.5 L355.0 437.5 L364.0 427.5 L361.5 420.0 L368.0 417.5 L374.0 416.0 L376.5 409.0 L389.0 405.0 L394.0 399.0 L404.0 392.5 L408.0 385.0 L406.5 379.0 L419.0 380.0 L434.0 382.5 L449.0 381.0 L453.0 392.5 L454.0 399.0 L464.0 400.0 L474.0 399.0 L469.0 405.0 L461.5 414.0 L454.0 419.0 L456.5 427.5 L450.0 431.0 L449.0 440.0 L450.0 455.0 L439.0 457.0 L424.0 457.5 L409.0 459.0 L396.5 462.5 L379.0 464.0 L364.0 467.5Z" fill="#5ace74" stroke="#5ace74" stroke-width="0.8" stroke-linejoin="round"/>
<path d="M474.0 399.0 L479.0 394.0 L490.0 390.5 L504.0 391.0 L514.0 392.5 L520.0 397.5 L529.0 404.0 L531.5 422.5 L539.0 435.0 L554.0 440.0 L567.0 447.0 L575.0 456.0 L579.0 461.0 L576.0 468.5 L568.9 466.3 L562.8 466.3 L556.8 471.3 L546.7 469.3 L530.5 470.3 L520.5 473.0 L516.0 477.0 L512.0 479.0 L506.0 474.0 L500.0 466.0 L492.0 460.0 L481.5 457.5 L464.0 456.0 L450.0 455.0 L449.0 440.0 L450.0 431.0 L456.5 427.5 L454.0 419.0 L461.5 414.0 L469.0 405.0Z" fill="#4eca6e" stroke="#4eca6e" stroke-width="0.8" stroke-linejoin="round"/>
<path d="M520.0 397.5 L529.0 404.0 L531.5 422.5 L539.0 435.0 L554.0 440.0 L567.0 447.0 L575.0 456.0 L579.0 461.0 L587.0 455.0 L593.0 451.0 L599.0 455.0 L603.0 444.0 L604.0 437.5 L605.0 430.0 L605.0 415.0 L608.0 402.5 L604.0 394.0 L591.5 391.0 L579.0 392.5 L569.0 395.0 L556.5 394.0 L546.5 385.0 L543.0 374.0 L534.0 379.0 L523.0 390.0Z" fill="#79d680" stroke="#79d680" stroke-width="0.8" stroke-linejoin="round"/>
<path d="M231.0 220.0 L232.5 216.0 L247.5 202.0 L260.0 197.0 L280.0 194.0 L287.5 186.0 L299.0 179.0 L301.0 174.0 L315.0 172.5 L319.0 165.0 L327.5 165.0 L330.0 170.0 L340.0 176.0 L350.0 180.0" fill="none" stroke="#5f9f6d" stroke-width="2.8" stroke-linejoin="round" stroke-linecap="round"/>
<path d="M350.0 180.0 L351.0 174.0 L355.0 176.0 L372.5 179.0 L380.0 184.0 L395.0 185.0 L410.0 187.5 L425.0 184.0 L429.0 179.0 L432.5 182.5 L445.0 184.0 L455.0 194.0 L465.0 202.5 L470.0 207.5 L477.5 210.0" fill="none" stroke="#5f9f6d" stroke-width="2.8" stroke-linejoin="round" stroke-linecap="round"/>
<path d="M477.5 210.0 L487.5 206.0 L495.0 197.5 L505.0 190.0 L520.0 186.0 L545.0 182.5 L570.0 179.5 L577.5 179.0" fill="none" stroke="#5f9f6d" stroke-width="2.8" stroke-linejoin="round" stroke-linecap="round"/>
<path d="M577.5 179.0 L585.0 170.0 L590.0 162.5 L595.0 155.0 L607.5 150.0 L622.5 147.0 L637.5 149.0 L647.5 156.0 L656.0 165.0 L665.0 175.0 L670.0 187.5 L679.0 204.0 L682.5 215.0 L689.0 222.5" fill="none" stroke="#5f9f6d" stroke-width="2.8" stroke-linejoin="round" stroke-linecap="round"/>
<path d="M689.0 222.5 L695.0 232.5 L705.0 237.5 L707.5 250.0 L717.5 257.5 L725.0 267.5 L726.0 276.0 L736.0 279.0 L745.0 287.5 L752.5 292.5 L754.0 303.0 L752.5 306.0" fill="none" stroke="#5f9f6d" stroke-width="2.8" stroke-linejoin="round" stroke-linecap="round"/>
<path d="M752.5 306.0 L754.0 309.0 L762.5 320.0 L766.0 330.0 L767.5 350.0 L769.0 359.0 L764.0 372.5 L760.0 382.5 L761.0 386.0 L759.0 391.0" fill="none" stroke="#5f9f6d" stroke-width="2.8" stroke-linejoin="round" stroke-linecap="round"/>
<path d="M759.0 391.0 L760.0 405.0 L762.5 417.5 L764.0 427.5 L767.5 435.0 L766.0 447.5 L764.0 451.0 L769.0 460.0 L772.5 469.0" fill="none" stroke="#5f9f6d" stroke-width="2.8" stroke-linejoin="round" stroke-linecap="round"/>
<path d="M772.5 469.0 L777.5 470.0 L782.5 480.0 L795.0 486.5 L810.0 491.5 L822.5 492.5 L823.0 486.0 L827.5 480.0 L838.0 485.0 L840.0 479.0 L852.5 472.5 L865.0 466.0 L877.5 464.5 L890.0 466.0 L900.0 472.5 L905.0 482.5 L906.0 490.0 L910.0 492.5 L909.0 507.5 L906.0 520.0 L905.0 532.5 L900.0 536.0 L887.5 539.0 L875.0 540.0 L865.0 542.5 L859.0 547.0 L854.0 555.0 L847.0 561.0 L841.0 566.0" fill="none" stroke="#5f9f6d" stroke-width="2.8" stroke-linejoin="round" stroke-linecap="round"/>
<path d="M841.0 566.0 L839.0 576.0 L832.5 582.5 L827.5 589.0 L820.0 595.0 L817.5 602.5 L819.0 610.0 L821.0 615.0 L819.5 621.0 L821.0 633.0 L818.0 645.0 L816.0 657.0 L815.5 667.5 L801.0 667.3 L785.0 663.0 L770.7 658.2 L759.6 652.1 L756.6 641.0 L754.5 639.0 L745.0 640.5 L738.4 642.0 L728.3 636.0 L714.1 635.5 L705.0 636.0 L696.0 630.0 L695.0 624.5" fill="none" stroke="#5f9f6d" stroke-width="2.8" stroke-linejoin="round" stroke-linecap="round"/>
<path d="M695.0 624.5 L670.0 622.5 L655.0 625.0 L635.0 630.0 L616.0 634.0" fill="none" stroke="#5f9f6d" stroke-width="2.8" stroke-linejoin="round" stroke-linecap="round"/>
<path d="M616.0 634.0 L605.0 637.5 L592.5 641.0 L580.0 647.5 L570.0 655.0 L560.0 667.5 L550.0 675.0 L545.0 679.0" fill="none" stroke="#5f9f6d" stroke-width="2.8" stroke-linejoin="round" stroke-linecap="round"/>
<path d="M545.0 679.0 L535.0 681.0 L517.5 685.0 L505.0 679.0 L490.0 677.5 L475.0 675.0 L460.0 676.0 L445.0 671.0" fill="none" stroke="#5f9f6d" stroke-width="2.8" stroke-linejoin="round" stroke-linecap="round"/>
<path d="M445.0 671.0 L435.0 670.0 L422.5 675.0 L407.5 679.0 L399.0 673.0" fill="none" stroke="#5f9f6d" stroke-width="2.8" stroke-linejoin="round" stroke-linecap="round"/>
<path d="M399.0 673.0 L386.0 671.0 L365.0 665.0 L347.5 660.0 L330.0 657.5 L315.0 657.5 L297.5 661.0 L285.0 656.0 L281.0 650.0 L286.0 642.5 L297.5 637.5 L300.0 632.5 L295.0 629.0" fill="none" stroke="#5f9f6d" stroke-width="2.8" stroke-linejoin="round" stroke-linecap="round"/>
<path d="M295.0 629.0 L285.0 625.0 L277.5 620.0 L266.0 614.0 L265.0 606.0 L257.5 602.5 L250.0 595.0 L247.5 586.0 L250.0 582.5 L255.0 576.0 L262.5 575.0 L270.0 575.0 L265.0 570.0 L255.0 562.5 L247.5 557.5 L240.0 560.0 L230.0 567.5 L224.0 577.5 L217.5 582.5 L212.5 577.5 L207.5 567.5" fill="none" stroke="#5f9f6d" stroke-width="2.8" stroke-linejoin="round" stroke-linecap="round"/>
<path d="M207.5 567.5 L197.5 562.5 L185.0 560.0 L172.5 559.0 L167.5 550.0 L155.0 545.0 L146.0 539.0 L152.5 532.5 L162.5 530.0 L155.0 525.0 L149.0 517.5 L157.5 510.0 L162.5 499.0" fill="none" stroke="#5f9f6d" stroke-width="2.8" stroke-linejoin="round" stroke-linecap="round"/>
<path d="M162.5 499.0 L155.0 495.0 L145.0 490.0 L132.5 482.5 L125.0 481.0 L115.0 475.0 L105.0 467.5 L97.5 460.0 L100.0 452.5 L96.0 447.5 L100.0 440.0 L101.0 430.0 L92.5 429.0 L85.0 415.0 L77.5 411.0 L67.5 402.5 L59.0 392.5 L55.0 381.0 L67.5 381.0 L77.5 377.5 L90.0 382.5 L96.0 381.0" fill="none" stroke="#5f9f6d" stroke-width="2.8" stroke-linejoin="round" stroke-linecap="round"/>
<path d="M96.0 381.0 L97.5 377.5 L102.5 369.0 L115.0 369.0 L125.0 371.0 L136.0 366.0 L140.0 356.0 L146.0 355.0 L150.0 350.0 L147.5 337.5 L152.5 330.0 L160.0 328.0 L165.0 327.0" fill="none" stroke="#5f9f6d" stroke-width="2.8" stroke-linejoin="round" stroke-linecap="round"/>
<path d="M165.0 327.0 L162.5 325.0 L167.5 315.0 L176.0 301.0 L185.0 284.0 L200.0 269.0 L204.0 257.5 L218.0 241.0 L217.5 230.0 L231.0 220.0" fill="none" stroke="#5f9f6d" stroke-width="2.8" stroke-linejoin="round" stroke-linecap="round"/>
<path d="M231.0 220.0 L240.0 231.0 L250.0 240.0 L265.0 242.5 L269.0 250.0" fill="none" stroke="#5f9f6d" stroke-width="2.6" stroke-linejoin="round" stroke-linecap="round"/>
<path d="M269.0 250.0 L275.0 245.0 L290.0 243.0 L305.0 239.0" fill="none" stroke="#5f9f6d" stroke-width="2.6" stroke-linejoin="round" stroke-linecap="round"/>
<path d="M350.0 180.0 L361.0 191.0 L354.0 200.0 L330.0 202.5 L326.0 207.5 L335.0 215.0 L330.0 227.5 L317.5 220.0 L310.0 230.0 L305.0 239.0" fill="none" stroke="#5f9f6d" stroke-width="2.6" stroke-linejoin="round" stroke-linecap="round"/>
<path d="M269.0 250.0 L260.0 270.0 L266.0 280.0 L275.0 293.0" fill="none" stroke="#5f9f6d" stroke-width="2.6" stroke-linejoin="round" stroke-linecap="round"/>
<path d="M305.0 239.0 L315.0 241.0 L330.0 242.5 L342.5 247.5 L357.5 249.0 L367.5 254.0 L376.0 255.5" fill="none" stroke="#5f9f6d" stroke-width="2.6" stroke-linejoin="round" stroke-linecap="round"/>
<path d="M376.0 255.5 L374.0 262.5 L362.5 270.0 L347.5 276.0 L342.5 285.0 L344.0 290.0 L332.5 300.0 L326.0 297.5 L321.0 305.0 L310.0 305.0 L295.0 297.5 L290.0 292.5 L280.0 290.0 L275.0 293.0" fill="none" stroke="#5f9f6d" stroke-width="2.6" stroke-linejoin="round" stroke-linecap="round"/>
<path d="M376.0 255.5 L391.0 254.0" fill="none" stroke="#5f9f6d" stroke-width="2.6" stroke-linejoin="round" stroke-linecap="round"/>
<path d="M391.0 254.0 L397.5 245.0 L402.5 236.0 L415.0 230.0 L425.0 224.0 L440.0 225.0 L455.0 227.5 L470.0 222.5 L480.0 221.0" fill="none" stroke="#5f9f6d" stroke-width="2.6" stroke-linejoin="round" stroke-linecap="round"/>
<path d="M480.0 221.0 L481.0 216.0 L477.5 210.0" fill="none" stroke="#5f9f6d" stroke-width="2.6" stroke-linejoin="round" stroke-linecap="round"/>
<path d="M480.0 221.0 L485.0 230.0 L480.0 242.5 L484.0 250.0 L485.0 265.0 L484.0 278.0" fill="none" stroke="#5f9f6d" stroke-width="2.6" stroke-linejoin="round" stroke-linecap="round"/>
<path d="M484.0 278.0 L495.0 280.0 L501.0 285.0" fill="none" stroke="#5f9f6d" stroke-width="2.6" stroke-linejoin="round" stroke-linecap="round"/>
<path d="M501.0 285.0 L512.5 276.0 L520.0 278.0 L530.0 285.5 L540.0 281.0" fill="none" stroke="#5f9f6d" stroke-width="2.6" stroke-linejoin="round" stroke-linecap="round"/>
<path d="M501.0 285.0 L502.5 295.0 L506.0 315.0 L504.0 327.5 L499.0 335.0 L489.0 345.0 L479.0 349.0 L481.5 355.0 L471.5 362.5 L478.0 365.0 L468.0 371.0 L474.0 379.0 L488.0 380.0 L490.0 390.5" fill="none" stroke="#5f9f6d" stroke-width="2.6" stroke-linejoin="round" stroke-linecap="round"/>
<path d="M484.0 278.0 L470.0 282.5 L460.0 292.5 L455.0 302.5 L445.0 302.5 L435.0 317.5 L424.0 321.0 L409.0 315.0" fill="none" stroke="#5f9f6d" stroke-width="2.6" stroke-linejoin="round" stroke-linecap="round"/>
<path d="M391.0 254.0 L387.5 265.0 L400.0 276.0 L405.0 285.0 L404.0 295.0 L411.0 302.5 L409.0 315.0" fill="none" stroke="#5f9f6d" stroke-width="2.6" stroke-linejoin="round" stroke-linecap="round"/>
<path d="M409.0 315.0 L402.5 330.0 L400.0 337.5 L393.0 345.0 L391.5 356.0" fill="none" stroke="#5f9f6d" stroke-width="2.6" stroke-linejoin="round" stroke-linecap="round"/>
<path d="M275.0 293.0 L277.5 305.0 L271.0 314.0 L279.0 325.0 L280.0 335.0 L284.0 340.0" fill="none" stroke="#5f9f6d" stroke-width="2.6" stroke-linejoin="round" stroke-linecap="round"/>
<path d="M284.0 340.0 L289.0 344.0 L304.0 345.0 L308.0 351.0 L316.5 347.5 L329.0 346.0 L344.0 349.0 L356.5 354.0 L360.0 359.0 L369.0 355.0 L386.5 354.0 L391.5 356.0" fill="none" stroke="#5f9f6d" stroke-width="2.6" stroke-linejoin="round" stroke-linecap="round"/>
<path d="M272.0 361.0 L274.0 347.5 L276.5 341.0 L284.0 340.0" fill="none" stroke="#5f9f6d" stroke-width="2.6" stroke-linejoin="round" stroke-linecap="round"/>
<path d="M165.0 327.0 L180.0 329.0 L200.0 326.0 L215.0 331.0 L225.0 336.0 L232.5 346.0 L247.5 356.0 L257.5 360.0 L272.0 361.0" fill="none" stroke="#5f9f6d" stroke-width="2.6" stroke-linejoin="round" stroke-linecap="round"/>
<path d="M272.0 361.0 L275.0 368.0" fill="none" stroke="#5f9f6d" stroke-width="2.6" stroke-linejoin="round" stroke-linecap="round"/>
<path d="M275.0 368.0 L265.0 377.5 L252.5 381.0 L247.5 392.5 L249.0 402.5 L245.0 411.0" fill="none" stroke="#5f9f6d" stroke-width="2.6" stroke-linejoin="round" stroke-linecap="round"/>
<path d="M96.0 381.0 L105.0 390.0 L115.0 396.0 L127.5 397.5 L134.0 405.0 L145.0 402.5 L157.5 404.0 L167.5 397.5 L172.5 406.0 L180.0 411.0 L185.0 414.0 L192.5 410.0 L202.5 409.0 L212.5 407.5 L222.5 412.5 L232.5 416.0 L245.0 411.0" fill="none" stroke="#5f9f6d" stroke-width="2.6" stroke-linejoin="round" stroke-linecap="round"/>
<path d="M275.0 368.0 L289.0 369.0 L296.5 374.0 L304.0 382.5 L310.0 391.0 L314.0 402.5 L323.0 410.0 L329.0 420.0 L333.0 437.5 L336.5 450.0 L344.0 459.0 L350.0 465.0 L354.0 471.0" fill="none" stroke="#5f9f6d" stroke-width="2.6" stroke-linejoin="round" stroke-linecap="round"/>
<path d="M354.0 471.0 L358.0 462.5 L353.0 447.5 L355.0 437.5 L364.0 427.5 L361.5 420.0 L368.0 417.5 L374.0 416.0 L376.5 409.0 L389.0 405.0 L394.0 399.0 L404.0 392.5 L408.0 385.0 L406.5 379.0" fill="none" stroke="#5f9f6d" stroke-width="2.6" stroke-linejoin="round" stroke-linecap="round"/>
<path d="M406.5 379.0 L400.0 370.0 L394.0 366.0 L395.0 360.0 L391.5 356.0" fill="none" stroke="#5f9f6d" stroke-width="2.6" stroke-linejoin="round" stroke-linecap="round"/>
<path d="M406.5 379.0 L419.0 380.0 L434.0 382.5 L449.0 381.0 L453.0 392.5 L454.0 399.0 L464.0 400.0 L474.0 399.0" fill="none" stroke="#5f9f6d" stroke-width="2.6" stroke-linejoin="round" stroke-linecap="round"/>
<path d="M474.0 399.0 L479.0 394.0 L490.0 390.5" fill="none" stroke="#5f9f6d" stroke-width="2.6" stroke-linejoin="round" stroke-linecap="round"/>
<path d="M450.0 455.0 L449.0 440.0 L450.0 431.0 L456.5 427.5 L454.0 419.0 L461.5 414.0 L469.0 405.0 L474.0 399.0" fill="none" stroke="#5f9f6d" stroke-width="2.6" stroke-linejoin="round" stroke-linecap="round"/>
<path d="M439.0 457.0 L450.0 455.0" fill="none" stroke="#5f9f6d" stroke-width="2.6" stroke-linejoin="round" stroke-linecap="round"/>
<path d="M354.0 471.0 L364.0 467.5 L379.0 464.0 L396.5 462.5 L409.0 459.0 L424.0 457.5 L439.0 457.0" fill="none" stroke="#5f9f6d" stroke-width="2.6" stroke-linejoin="round" stroke-linecap="round"/>
<path d="M354.0 471.0 L351.5 484.0" fill="none" stroke="#5f9f6d" stroke-width="2.6" stroke-linejoin="round" stroke-linecap="round"/>
<path d="M351.5 484.0 L346.5 486.0 L331.5 486.0 L316.5 492.5 L301.5 494.0 L289.0 491.0 L280.0 491.0 L272.5 490.0" fill="none" stroke="#5f9f6d" stroke-width="2.6" stroke-linejoin="round" stroke-linecap="round"/>
<path d="M245.0 411.0 L246.0 417.5 L252.5 427.5 L259.0 432.5 L252.5 436.0 L250.0 446.0" fill="none" stroke="#5f9f6d" stroke-width="2.6" stroke-linejoin="round" stroke-linecap="round"/>
<path d="M250.0 446.0 L240.0 447.5 L230.0 450.0 L220.0 452.5 L212.5 462.5 L205.0 460.0 L200.0 455.0 L190.0 457.5 L180.0 454.0 L170.0 455.0 L164.0 465.0 L160.0 472.5 L164.0 482.5 L165.0 490.0 L162.5 499.0" fill="none" stroke="#5f9f6d" stroke-width="2.6" stroke-linejoin="round" stroke-linecap="round"/>
<path d="M250.0 446.0 L260.0 452.5 L267.5 460.0 L271.0 470.0 L275.0 480.0 L272.5 490.0" fill="none" stroke="#5f9f6d" stroke-width="2.6" stroke-linejoin="round" stroke-linecap="round"/>
<path d="M272.5 490.0 L265.0 497.5 L260.0 503.0 L264.0 509.0 L266.0 514.5" fill="none" stroke="#5f9f6d" stroke-width="2.6" stroke-linejoin="round" stroke-linecap="round"/>
<path d="M266.0 514.5 L257.5 522.5 L252.5 535.0 L246.0 547.5 L240.0 551.0 L232.5 547.5 L226.0 546.0 L224.0 554.0 L217.5 564.0 L214.0 568.0 L207.5 567.5" fill="none" stroke="#5f9f6d" stroke-width="2.6" stroke-linejoin="round" stroke-linecap="round"/>
<path d="M266.0 514.5 L275.0 520.0 L285.0 527.5 L290.0 540.0 L295.0 549.0 L305.0 557.5 L320.0 564.0 L332.5 569.0 L341.0 575.0" fill="none" stroke="#5f9f6d" stroke-width="2.6" stroke-linejoin="round" stroke-linecap="round"/>
<path d="M341.0 575.0 L330.0 580.0 L321.0 581.0 L315.0 587.5 L319.0 595.0 L315.0 600.0 L309.0 610.0 L305.0 620.0 L295.0 629.0" fill="none" stroke="#5f9f6d" stroke-width="2.6" stroke-linejoin="round" stroke-linecap="round"/>
<path d="M341.0 575.0 L350.0 572.5 L361.0 569.0 L366.0 560.0" fill="none" stroke="#5f9f6d" stroke-width="2.6" stroke-linejoin="round" stroke-linecap="round"/>
<path d="M351.5 484.0 L364.0 486.0 L374.0 489.0 L373.0 505.0 L371.0 515.0 L367.5 530.0 L366.0 545.0 L366.0 560.0" fill="none" stroke="#5f9f6d" stroke-width="2.6" stroke-linejoin="round" stroke-linecap="round"/>
<path d="M366.0 560.0 L372.0 565.0 L377.5 575.0 L379.0 584.0" fill="none" stroke="#5f9f6d" stroke-width="2.6" stroke-linejoin="round" stroke-linecap="round"/>
<path d="M379.0 584.0 L392.5 580.0 L400.0 582.5 L410.0 575.0 L417.5 575.0 L415.0 562.5 L414.0 552.5 L420.0 545.0 L427.5 537.5 L430.0 544.0 L432.5 545.0" fill="none" stroke="#5f9f6d" stroke-width="2.6" stroke-linejoin="round" stroke-linecap="round"/>
<path d="M439.0 457.0 L436.5 470.0 L434.0 480.0 L435.0 495.0 L434.0 520.0 L435.0 535.0 L432.5 545.0" fill="none" stroke="#5f9f6d" stroke-width="2.6" stroke-linejoin="round" stroke-linecap="round"/>
<path d="M432.5 545.0 L440.0 542.5 L445.0 552.5 L454.0 559.0 L452.5 572.5 L456.0 585.0 L460.0 595.0 L462.5 596.0" fill="none" stroke="#5f9f6d" stroke-width="2.6" stroke-linejoin="round" stroke-linecap="round"/>
<path d="M379.0 584.0 L385.0 595.0 L397.5 607.5 L410.0 617.5 L409.0 630.0 L405.0 637.5 L411.0 645.0 L407.5 657.5 L402.5 665.0 L399.0 673.0" fill="none" stroke="#5f9f6d" stroke-width="2.6" stroke-linejoin="round" stroke-linecap="round"/>
<path d="M462.5 596.0 L465.0 610.0 L464.0 620.0 L465.0 629.0 L455.0 634.0 L444.0 639.0 L446.0 650.0 L456.0 665.0 L447.5 670.0 L445.0 671.0" fill="none" stroke="#5f9f6d" stroke-width="2.6" stroke-linejoin="round" stroke-linecap="round"/>
<path d="M462.5 596.0 L475.0 596.0 L490.0 592.5 L505.0 591.0" fill="none" stroke="#5f9f6d" stroke-width="2.6" stroke-linejoin="round" stroke-linecap="round"/>
<path d="M512.0 479.0 L506.3 492.5 L502.2 502.6 L494.1 506.7 L493.1 512.7 L498.2 520.8 L497.2 532.9 L498.2 549.1 L496.2 563.2 L499.2 571.3 L505.3 577.4 L505.0 591.0" fill="none" stroke="#5f9f6d" stroke-width="2.6" stroke-linejoin="round" stroke-linecap="round"/>
<path d="M450.0 455.0 L464.0 456.0 L481.5 457.5 L492.0 460.0 L500.0 466.0 L506.0 474.0 L512.0 479.0" fill="none" stroke="#5f9f6d" stroke-width="2.6" stroke-linejoin="round" stroke-linecap="round"/>
<path d="M512.0 479.0 L516.0 477.0 L520.5 473.0" fill="none" stroke="#5f9f6d" stroke-width="2.6" stroke-linejoin="round" stroke-linecap="round"/>
<path d="M505.0 591.0 L510.0 590.0 L516.0 582.5 L525.0 586.0" fill="none" stroke="#5f9f6d" stroke-width="2.6" stroke-linejoin="round" stroke-linecap="round"/>
<path d="M525.0 586.0 L522.5 595.0 L530.0 602.5 L544.0 607.5 L542.5 617.5 L539.0 630.0 L537.5 640.0 L540.0 650.0 L539.0 660.0 L544.0 672.5 L545.0 679.0" fill="none" stroke="#5f9f6d" stroke-width="2.6" stroke-linejoin="round" stroke-linecap="round"/>
<path d="M525.0 586.0 L527.5 582.5 L540.0 579.0 L550.0 575.0 L560.0 577.5 L565.0 577.5" fill="none" stroke="#5f9f6d" stroke-width="2.6" stroke-linejoin="round" stroke-linecap="round"/>
<path d="M565.0 577.5 L566.0 566.0 L570.0 558.0" fill="none" stroke="#5f9f6d" stroke-width="2.6" stroke-linejoin="round" stroke-linecap="round"/>
<path d="M520.5 473.0 L521.4 480.4 L527.5 487.5 L528.5 496.6 L534.5 506.7 L540.6 518.8 L544.6 528.9 L554.7 537.0 L554.7 545.0 L564.8 552.0 L570.0 558.0" fill="none" stroke="#5f9f6d" stroke-width="2.6" stroke-linejoin="round" stroke-linecap="round"/>
<path d="M570.0 558.0 L577.0 556.0 L589.0 555.0 L598.5 555.5" fill="none" stroke="#5f9f6d" stroke-width="2.6" stroke-linejoin="round" stroke-linecap="round"/>
<path d="M598.5 555.5 L600.0 565.0 L606.0 575.0 L607.0 577.5" fill="none" stroke="#5f9f6d" stroke-width="2.6" stroke-linejoin="round" stroke-linecap="round"/>
<path d="M607.0 577.5 L605.0 580.0 L602.5 590.0 L599.0 601.0" fill="none" stroke="#5f9f6d" stroke-width="2.6" stroke-linejoin="round" stroke-linecap="round"/>
<path d="M565.0 577.5 L569.0 590.0 L571.0 602.5 L585.0 604.0 L599.0 601.0" fill="none" stroke="#5f9f6d" stroke-width="2.6" stroke-linejoin="round" stroke-linecap="round"/>
<path d="M599.0 601.0 L606.0 606.0 L612.5 612.5 L620.0 619.0 L614.0 627.5 L616.0 634.0" fill="none" stroke="#5f9f6d" stroke-width="2.6" stroke-linejoin="round" stroke-linecap="round"/>
<path d="M607.0 577.5 L617.5 576.0 L627.5 579.0 L631.0 584.0 L642.5 582.5 L647.5 577.5 L660.0 576.0 L670.0 577.5 L685.0 579.0 L710.0 580.0 L725.0 583.0 L735.0 589.0 L747.5 594.0 L760.0 597.5" fill="none" stroke="#5f9f6d" stroke-width="2.6" stroke-linejoin="round" stroke-linecap="round"/>
<path d="M760.0 597.5 L750.0 604.0 L740.0 608.7 L724.0 614.7 L712.0 620.8 L695.0 624.5" fill="none" stroke="#5f9f6d" stroke-width="2.6" stroke-linejoin="round" stroke-linecap="round"/>
<path d="M750.0 549.0 L743.5 553.0 L745.5 558.0 L754.5 560.0 L758.6 564.0 L760.6 574.0 L766.7 583.0 L766.7 588.5 L760.0 597.5" fill="none" stroke="#5f9f6d" stroke-width="2.6" stroke-linejoin="round" stroke-linecap="round"/>
<path d="M682.5 547.0 L695.0 547.5 L710.0 549.0 L730.0 546.0 L745.0 547.5 L750.0 549.0" fill="none" stroke="#5f9f6d" stroke-width="2.6" stroke-linejoin="round" stroke-linecap="round"/>
<path d="M750.0 549.0 L758.0 548.0 L766.0 546.0" fill="none" stroke="#5f9f6d" stroke-width="2.6" stroke-linejoin="round" stroke-linecap="round"/>
<path d="M766.0 546.0 L775.0 546.5 L782.8 554.0 L788.9 559.0 L795.0 561.0 L801.0 557.0 L813.0 558.0 L825.0 556.0 L829.0 554.0 L841.0 566.0" fill="none" stroke="#5f9f6d" stroke-width="2.6" stroke-linejoin="round" stroke-linecap="round"/>
<path d="M755.0 475.0 L755.5 487.0 L765.0 490.0 L767.0 498.0 L771.0 506.0 L768.0 517.5 L766.5 535.0 L766.0 546.0" fill="none" stroke="#5f9f6d" stroke-width="2.6" stroke-linejoin="round" stroke-linecap="round"/>
<path d="M755.0 475.0 L764.0 472.0 L772.5 469.0" fill="none" stroke="#5f9f6d" stroke-width="2.6" stroke-linejoin="round" stroke-linecap="round"/>
<path d="M713.0 467.5 L721.5 466.0 L734.0 469.0 L746.5 472.5 L755.0 475.0" fill="none" stroke="#5f9f6d" stroke-width="2.6" stroke-linejoin="round" stroke-linecap="round"/>
<path d="M699.0 476.0 L706.5 471.0 L713.0 467.5" fill="none" stroke="#5f9f6d" stroke-width="2.6" stroke-linejoin="round" stroke-linecap="round"/>
<path d="M699.0 476.0 L696.0 487.0 L690.0 492.5 L677.5 495.0 L670.0 501.0 L670.0 505.0 L677.5 507.5 L685.0 512.5 L687.5 530.0 L682.5 535.0 L682.5 547.0" fill="none" stroke="#5f9f6d" stroke-width="2.6" stroke-linejoin="round" stroke-linecap="round"/>
<path d="M625.0 543.5 L630.0 545.0 L642.5 546.0 L655.0 547.5 L667.5 546.0 L675.0 554.0 L679.0 554.0 L682.5 547.0" fill="none" stroke="#5f9f6d" stroke-width="2.6" stroke-linejoin="round" stroke-linecap="round"/>
<path d="M625.0 543.5 L617.5 548.5 L611.0 550.5 L604.0 553.5 L598.5 555.5" fill="none" stroke="#5f9f6d" stroke-width="2.6" stroke-linejoin="round" stroke-linecap="round"/>
<path d="M576.0 468.5 L577.0 474.0 L587.0 481.5 L591.0 490.5 L593.0 499.5 L605.0 502.5 L612.0 508.7 L617.4 520.8 L625.5 527.0 L621.5 535.0 L625.0 543.5" fill="none" stroke="#5f9f6d" stroke-width="2.6" stroke-linejoin="round" stroke-linecap="round"/>
<path d="M520.5 473.0 L530.5 470.3 L546.7 469.3 L556.8 471.3 L562.8 466.3 L568.9 466.3 L576.0 468.5" fill="none" stroke="#5f9f6d" stroke-width="2.6" stroke-linejoin="round" stroke-linecap="round"/>
<path d="M576.0 468.5 L579.0 461.0" fill="none" stroke="#5f9f6d" stroke-width="2.6" stroke-linejoin="round" stroke-linecap="round"/>
<path d="M520.0 397.5 L529.0 404.0 L531.5 422.5 L539.0 435.0 L554.0 440.0 L567.0 447.0 L575.0 456.0 L579.0 461.0" fill="none" stroke="#5f9f6d" stroke-width="2.6" stroke-linejoin="round" stroke-linecap="round"/>
<path d="M490.0 390.5 L504.0 391.0 L514.0 392.5 L520.0 397.5" fill="none" stroke="#5f9f6d" stroke-width="2.6" stroke-linejoin="round" stroke-linecap="round"/>
<path d="M520.0 397.5 L523.0 390.0 L534.0 379.0 L543.0 374.0 L546.5 385.0 L556.5 394.0 L569.0 395.0 L579.0 392.5 L591.5 391.0" fill="none" stroke="#5f9f6d" stroke-width="2.6" stroke-linejoin="round" stroke-linecap="round"/>
<path d="M567.5 331.0 L571.5 340.0 L575.0 350.0 L566.5 356.0 L566.5 367.5 L581.5 365.0 L585.0 371.0 L594.0 369.0 L593.0 382.5 L591.5 391.0" fill="none" stroke="#5f9f6d" stroke-width="2.6" stroke-linejoin="round" stroke-linecap="round"/>
<path d="M540.0 281.0 L546.0 287.5 L552.5 297.5 L551.0 312.5 L555.0 326.0 L559.0 331.0 L567.5 331.0" fill="none" stroke="#5f9f6d" stroke-width="2.6" stroke-linejoin="round" stroke-linecap="round"/>
<path d="M616.0 260.0 L607.5 257.5 L600.0 256.0 L585.0 261.0 L570.0 262.5 L557.5 264.0 L550.0 257.5 L551.0 267.5 L544.0 275.0 L540.0 281.0" fill="none" stroke="#5f9f6d" stroke-width="2.6" stroke-linejoin="round" stroke-linecap="round"/>
<path d="M577.5 179.0 L580.0 185.0 L595.0 194.0 L605.0 206.0 L614.0 217.5 L617.5 232.5 L622.5 240.0" fill="none" stroke="#5f9f6d" stroke-width="2.6" stroke-linejoin="round" stroke-linecap="round"/>
<path d="M622.5 240.0 L630.0 234.0 L642.5 235.0 L655.0 235.0 L660.0 237.5 L665.0 230.0 L676.0 229.0 L682.5 222.5 L689.0 222.5" fill="none" stroke="#5f9f6d" stroke-width="2.6" stroke-linejoin="round" stroke-linecap="round"/>
<path d="M622.5 240.0 L626.0 245.0 L622.5 251.0 L616.0 252.5 L616.0 260.0" fill="none" stroke="#5f9f6d" stroke-width="2.6" stroke-linejoin="round" stroke-linecap="round"/>
<path d="M616.0 260.0 L620.0 267.5 L625.0 280.0 L637.5 284.0 L645.0 290.0 L655.0 287.5 L664.0 282.5 L670.0 285.0 L674.0 292.5 L671.0 300.0 L676.0 306.5" fill="none" stroke="#5f9f6d" stroke-width="2.6" stroke-linejoin="round" stroke-linecap="round"/>
<path d="M676.0 306.5 L695.0 306.0 L710.0 300.0 L712.5 295.0 L722.5 301.0 L732.5 306.0 L742.5 310.0 L752.5 306.0" fill="none" stroke="#5f9f6d" stroke-width="2.6" stroke-linejoin="round" stroke-linecap="round"/>
<path d="M676.0 306.5 L677.0 320.0" fill="none" stroke="#5f9f6d" stroke-width="2.6" stroke-linejoin="round" stroke-linecap="round"/>
<path d="M567.5 331.0 L582.5 329.0 L597.5 332.5 L614.0 326.0 L620.0 326.0 L630.0 320.0 L637.5 321.0 L645.0 312.5 L652.5 315.0 L660.0 319.0 L677.0 320.0" fill="none" stroke="#5f9f6d" stroke-width="2.6" stroke-linejoin="round" stroke-linecap="round"/>
<path d="M677.0 320.0 L685.0 327.5 L689.0 337.5 L696.5 352.5 L700.0 365.0 L703.0 377.5 L704.5 389.0" fill="none" stroke="#5f9f6d" stroke-width="2.6" stroke-linejoin="round" stroke-linecap="round"/>
<path d="M608.0 402.5 L616.5 404.0 L621.5 406.0 L624.0 400.0 L639.0 397.5 L654.0 397.5 L664.0 394.0 L674.0 390.0 L684.0 384.0 L694.0 389.0 L704.5 389.0" fill="none" stroke="#5f9f6d" stroke-width="2.6" stroke-linejoin="round" stroke-linecap="round"/>
<path d="M591.5 391.0 L604.0 394.0 L608.0 402.5" fill="none" stroke="#5f9f6d" stroke-width="2.6" stroke-linejoin="round" stroke-linecap="round"/>
<path d="M608.0 402.5 L605.0 415.0 L605.0 430.0 L604.0 437.5" fill="none" stroke="#5f9f6d" stroke-width="2.6" stroke-linejoin="round" stroke-linecap="round"/>
<path d="M604.0 437.5 L603.0 444.0 L599.0 455.0 L593.0 451.0 L587.0 455.0 L579.0 461.0" fill="none" stroke="#5f9f6d" stroke-width="2.6" stroke-linejoin="round" stroke-linecap="round"/>
<path d="M604.0 437.5 L611.5 442.5 L619.0 450.0 L634.0 456.0 L644.0 462.5 L656.5 465.0 L666.5 471.0 L676.5 470.0 L689.0 476.0 L699.0 476.0" fill="none" stroke="#5f9f6d" stroke-width="2.6" stroke-linejoin="round" stroke-linecap="round"/>
<path d="M704.5 389.0 L694.0 395.0 L683.0 401.0 L685.0 415.0 L694.0 430.0 L704.0 445.0 L711.5 460.0 L713.0 467.5" fill="none" stroke="#5f9f6d" stroke-width="2.6" stroke-linejoin="round" stroke-linecap="round"/>
<path d="M704.5 389.0 L706.0 396.0 L708.5 403.0 L712.0 406.0 L715.0 401.0 L714.5 391.0 L722.0 389.0 L730.0 391.0 L737.5 387.5 L750.0 389.0 L759.0 391.0" fill="none" stroke="#5f9f6d" stroke-width="2.6" stroke-linejoin="round" stroke-linecap="round"/>
<path d="M759.0 391.0 L760.0 405.0 L762.5 417.5 L764.0 427.5 L767.5 435.0 L766.0 447.5 L764.0 451.0 L769.0 460.0 L772.5 469.0 L764.0 472.0 L755.0 475.0 L746.5 472.5 L734.0 469.0 L721.5 466.0 L713.0 467.5 L711.5 460.0 L704.0 445.0 L694.0 430.0 L685.0 415.0 L683.0 401.0 L694.0 395.0 L704.5 389.0 L706.0 396.0 L708.5 403.0 L712.0 406.0 L715.0 401.0 L714.5 391.0 L722.0 389.0 L730.0 391.0 L737.5 387.5 L750.0 389.0Z" fill="none" stroke="#5ba172" stroke-opacity="0.75" stroke-width="4.0" stroke-linejoin="round"/>
<path d="M376.0 255.5 L374.0 262.5 L362.5 270.0 L347.5 276.0 L342.5 285.0 L344.0 290.0 L332.5 300.0 L326.0 297.5 L321.0 305.0 L310.0 305.0 L295.0 297.5 L290.0 292.5 L280.0 290.0 L275.0 293.0 L277.5 305.0 L271.0 314.0 L279.0 325.0 L280.0 335.0 L284.0 340.0 L289.0 344.0 L304.0 345.0 L308.0 351.0 L316.5 347.5 L329.0 346.0 L344.0 349.0 L356.5 354.0 L360.0 359.0 L369.0 355.0 L386.5 354.0 L391.5 356.0 L393.0 345.0 L400.0 337.5 L402.5 330.0 L409.0 315.0 L411.0 302.5 L404.0 295.0 L405.0 285.0 L400.0 276.0 L387.5 265.0 L391.0 254.0Z" fill="none" stroke="#5ba172" stroke-opacity="0.75" stroke-width="4.0" stroke-linejoin="round"/>
<path d="M682.5 547.0 L695.0 547.5 L710.0 549.0 L730.0 546.0 L745.0 547.5 L750.0 549.0 L758.0 548.0 L766.0 546.0 L766.5 535.0 L768.0 517.5 L771.0 506.0 L767.0 498.0 L765.0 490.0 L755.5 487.0 L755.0 475.0 L746.5 472.5 L734.0 469.0 L721.5 466.0 L713.0 467.5 L706.5 471.0 L699.0 476.0 L696.0 487.0 L690.0 492.5 L677.5 495.0 L670.0 501.0 L670.0 505.0 L677.5 507.5 L685.0 512.5 L687.5 530.0 L682.5 535.0Z" fill="none" stroke="#5ba172" stroke-opacity="0.75" stroke-width="4.0" stroke-linejoin="round"/>
<path d="M520.5 473.0 L521.4 480.4 L527.5 487.5 L528.5 496.6 L534.5 506.7 L540.6 518.8 L544.6 528.9 L554.7 537.0 L554.7 545.0 L564.8 552.0 L570.0 558.0 L577.0 556.0 L589.0 555.0 L598.5 555.5 L604.0 553.5 L611.0 550.5 L617.5 548.5 L625.0 543.5 L621.5 535.0 L625.5 527.0 L617.4 520.8 L612.0 508.7 L605.0 502.5 L593.0 499.5 L591.0 490.5 L587.0 481.5 L577.0 474.0 L576.0 468.5 L568.9 466.3 L562.8 466.3 L556.8 471.3 L546.7 469.3 L530.5 470.3Z" fill="none" stroke="#5ba172" stroke-opacity="0.75" stroke-width="4.0" stroke-linejoin="round"/>
<path d="M826.0 552.5 L838.0 550.5 L849.0 548.8 L857.0 546.5 L862.0 545.0 L864.0 548.0 L858.0 556.0 L850.0 563.0 L845.0 569.0 L841.0 574.5 L835.0 577.0 L830.0 576.0 L827.5 572.5 L829.0 562.5 L826.0 557.5Z" fill="#fff"/>
<path d="M845.4 516.6 L854.2 520.0 L853.4 530.7 L861.3 537.8 L863.0 541.3 L857.8 544.8 L849.0 548.4 L843.6 543.0 L841.0 536.0 L835.7 530.7 L836.6 523.6 L841.0 520.0Z" fill="#fff" stroke="#7d9a83" stroke-width="1.6" stroke-linejoin="round"/>
<path d="M826 552.5 L838 550.5 L849 548.8" fill="none" stroke="#5f9f6d" stroke-width="1.5"/>
<path d="M826 552.5 L826.5 557.5 L829.5 562.5 L828 572.5 L831 577" fill="none" stroke="#869e8b" stroke-width="1.8" stroke-linecap="round"/>
<path d="M851.5 549 L843 553 L836 557.5 L831.5 561" fill="none" stroke="#869e8b" stroke-width="2" stroke-linecap="round"/>
<path d="M846.5 560 L840 564.5 L834 569 L830 573.5" fill="none" stroke="#869e8b" stroke-width="2" stroke-linecap="round"/>
<path d="M864 543 L857 548 L852 553 L847 559 L855 553.5 Z" fill="#9ab89f" stroke="#869e8b" stroke-width="1.6" stroke-linejoin="round"/>
<path d="M846 560 L841.5 567 L839 576" fill="none" stroke="#869e8b" stroke-width="1.6" stroke-linecap="round"/>
</g>
<g filter="url(#bl)">
<path d="M896.8 207.7 L903.1 206.4 L904.4 210.2 L919.5 207.7 L920.8 227.9 L923.3 236.7 L925.8 239.2 L924.6 250.6 L966.3 257.7 L954.9 274.6 L967.5 279.6 L975.1 278.4 L977.6 282.2 L985.2 283.4 L990.2 287.2 L999.1 289.7 L999.1 296.1 L992.8 308.7 L990.2 316.3 L983.9 322.6 L967.5 322.6 L954.9 320.1 L949.8 336.5 L946.1 346.6 L952.4 354.1 L959.9 364.2 L953.6 371.8 L947.3 370.6 L942.3 369.3 L939.7 359.2 L932.2 354.1 L927.1 351.6 L917.0 347.8 L913.2 344.0 L899.3 341.5 L884.2 339.0 L874.1 331.4 L865.2 321.3 L862.7 317.5 L848.8 315.0 L838.7 316.3 L836.2 308.7 L831.2 307.4 L834.9 301.1 L832.4 293.5 L838.7 289.7 L865.2 286.0 L862.7 277.1 L851.4 273.3 L840.0 269.5 L842.5 257.7 L846.3 250.6 L841.3 245.6 L845.0 241.8 L851.4 244.3 L860.2 238.0 L861.5 230.4 L867.8 225.4 L870.3 219.0 L875.3 221.6 L882.9 215.3 L895.5 212.7Z" fill="#14ae4f" stroke="#1c9c4c" stroke-width="1.6"/>
<path d="M842.5 257.7 L846.3 250.6 L841.3 245.6 L845.0 241.8 L851.4 244.3 L860.2 238.0 L861.5 230.4 L867.8 225.4 L870.3 219.0 L875.3 221.6 L882.9 215.3 L895.5 212.7 L896.8 207.7 L903.1 206.4 L904.4 210.2 L919.5 207.7 L920.8 227.9 L923.3 236.7 L925.8 239.2 L924.6 250.6 L919.5 256.9 L918.3 273.3 L916.5 289.7 L915.0 293.5 L908.2 290.5 L901.9 283.4 L891.8 272.1 L876.6 262.0 L858.9 256.9Z" fill="#0dab4b" stroke="#0dab4b" stroke-width="0.6" stroke-linejoin="round"/>
<path d="M924.6 250.6 L966.3 257.7 L954.9 274.6 L967.5 279.6 L975.1 278.4 L977.6 282.2 L985.2 283.4 L990.2 287.2 L999.1 289.7 L990.2 287.5 L972.6 288.0 L957.4 291.5 L942.3 295.1 L927.1 296.1 L915.0 293.5 L916.5 289.7 L918.3 273.3 L919.5 256.9Z" fill="#1fb458" stroke="#1fb458" stroke-width="0.6" stroke-linejoin="round"/>
<path d="M999.1 289.7 L999.1 296.1 L992.8 308.7 L990.2 316.3 L983.9 322.6 L967.5 322.6 L954.9 320.1 L942.3 317.5 L929.6 312.5 L922.1 303.6 L915.0 293.5 L927.1 296.1 L942.3 295.1 L957.4 291.5 L972.6 288.0 L990.2 287.5Z" fill="#10af4e" stroke="#10af4e" stroke-width="0.6" stroke-linejoin="round"/>
<path d="M954.9 320.1 L949.8 336.5 L946.1 346.6 L952.4 354.1 L959.9 364.2 L953.6 371.8 L947.3 370.6 L942.3 369.3 L939.7 359.2 L932.2 354.1 L927.1 351.6 L917.0 347.8 L913.2 344.0 L912.0 316.3 L913.2 298.6 L915.0 293.5 L922.1 303.6 L929.6 312.5 L942.3 317.5Z" fill="#1cb255" stroke="#1cb255" stroke-width="0.6" stroke-linejoin="round"/>
<path d="M913.2 344.0 L899.3 341.5 L884.2 339.0 L874.1 331.4 L865.2 321.3 L862.7 317.5 L891.8 306.2 L894.3 296.1 L915.0 293.5 L913.2 298.6 L912.0 316.3Z" fill="#24ba5b" stroke="#24ba5b" stroke-width="0.6" stroke-linejoin="round"/>
<path d="M862.7 317.5 L848.8 315.0 L838.7 316.3 L836.2 308.7 L831.2 307.4 L834.9 301.1 L832.4 293.5 L838.7 289.7 L865.2 286.0 L862.7 277.1 L851.4 273.3 L840.0 269.5 L842.5 257.7 L858.9 256.9 L876.6 262.0 L891.8 272.1 L901.9 283.4 L908.2 290.5 L915.0 293.5 L894.3 296.1 L891.8 306.2Z" fill="#10ad4d" stroke="#10ad4d" stroke-width="0.6" stroke-linejoin="round"/>
<path d="M842.5 257.7 L858.9 256.9 L876.6 262.0 L891.8 272.1 L901.9 283.4 L908.2 290.5 L915.0 293.5" fill="none" stroke="#3cb468" stroke-opacity="0.6" stroke-width="1.2"/>
<path d="M924.6 250.6 L919.5 256.9 L918.3 273.3 L916.5 289.7 L915.0 293.5" fill="none" stroke="#3cb468" stroke-opacity="0.6" stroke-width="1.2"/>
<path d="M999.1 289.7 L990.2 287.5 L972.6 288.0 L957.4 291.5 L942.3 295.1 L927.1 296.1 L915.0 293.5" fill="none" stroke="#3cb468" stroke-opacity="0.6" stroke-width="1.2"/>
<path d="M954.9 320.1 L942.3 317.5 L929.6 312.5 L922.1 303.6 L915.0 293.5" fill="none" stroke="#3cb468" stroke-opacity="0.6" stroke-width="1.2"/>
<path d="M913.2 344.0 L912.0 316.3 L913.2 298.6 L915.0 293.5" fill="none" stroke="#3cb468" stroke-opacity="0.6" stroke-width="1.2"/>
<path d="M862.7 317.5 L891.8 306.2 L894.3 296.1 L915.0 293.5" fill="none" stroke="#3cb468" stroke-opacity="0.6" stroke-width="1.2"/>
</g>
<g filter="url(#bt)">
<text class="n" x="893.8" y="248.3">1</text>
<text class="n" x="938.5" y="279.6">2</text>
<text class="n" x="966.3" y="310.2">3</text>
<text class="n" x="931.4" y="336.5">4</text>
<text class="n" x="893.8" y="328.9">5</text>
<text class="n" x="878.4" y="292.3">6</text>
<text x="908" y="156" text-anchor="middle" font-weight="bold" font-size="16px" fill="#222" textLength="72.5" lengthAdjust="spacingAndGlyphs">București</text>
<text x="908" y="180" text-anchor="middle" font-weight="bold" font-size="16px" fill="#222" textLength="59" lengthAdjust="spacingAndGlyphs">(89,0%)</text>
</g>
<g filter="url(#bt)">
<text class="c" style="stroke-width:0.45px" x="277.5" y="213.7" textLength="23.6" lengthAdjust="spacingAndGlyphs">SM</text><text class="p" x="277.0" y="236.2" textLength="47" lengthAdjust="spacingAndGlyphs">73,6%</text>
<text class="c" style="stroke-width:0.45px" x="373.0" y="216.7" textLength="31.1" lengthAdjust="spacingAndGlyphs">MM</text><text class="p" x="374.0" y="240.2" textLength="47" lengthAdjust="spacingAndGlyphs">76,4%</text>
<text class="c" style="stroke-width:0.71px" x="312.5" y="270.2" textLength="13.5" lengthAdjust="spacingAndGlyphs">SJ</text><text class="p" x="312.5" y="293.7" textLength="47" lengthAdjust="spacingAndGlyphs">72,1%</text>
<text class="c" style="stroke-width:0.45px" x="433.0" y="264.2" textLength="21.3" lengthAdjust="spacingAndGlyphs">BN</text><text class="p" x="434.0" y="287.2" textLength="47" lengthAdjust="spacingAndGlyphs">78,6%</text>
<text class="c" style="stroke-width:0.68px" x="347.0" y="316.2" textLength="14.6" lengthAdjust="spacingAndGlyphs">CJ</text><text class="p" x="347.0" y="338.7" textLength="47" lengthAdjust="spacingAndGlyphs">87,6%</text>
<text class="c" style="stroke-width:0.46px" x="227.0" y="298.2" textLength="20.8" lengthAdjust="spacingAndGlyphs">BH</text><text class="p" x="227.5" y="320.7" textLength="47" lengthAdjust="spacingAndGlyphs">75,9%</text>
<text class="c" style="stroke-width:0.51px" x="631.0" y="185.7" textLength="18.2" lengthAdjust="spacingAndGlyphs">BT</text><text class="p" x="632.0" y="208.7" textLength="47" lengthAdjust="spacingAndGlyphs">66,3%</text>
<text class="c" style="stroke-width:0.50px" x="543.0" y="222.2" textLength="18.4" lengthAdjust="spacingAndGlyphs">SV</text><text class="p" x="542.5" y="245.2" textLength="47" lengthAdjust="spacingAndGlyphs">78,4%</text>
<text class="c" style="stroke-width:0.56px" x="683.0" y="261.2" textLength="12.3" lengthAdjust="spacingAndGlyphs">IS</text><text class="p" x="683.0" y="284.2" textLength="47" lengthAdjust="spacingAndGlyphs">78,3%</text>
<text class="c" style="stroke-width:0.45px" x="589.0" y="299.2" textLength="20.0" lengthAdjust="spacingAndGlyphs">NT</text><text class="p" x="589.0" y="322.2" textLength="47" lengthAdjust="spacingAndGlyphs">71,4%</text>
<text class="c" style="stroke-width:0.48px" x="192.0" y="366.7" textLength="20.3" lengthAdjust="spacingAndGlyphs">AR</text><text class="p" x="192.0" y="389.2" textLength="47" lengthAdjust="spacingAndGlyphs">69,6%</text>
<text class="c" style="stroke-width:0.45px" x="138.0" y="434.2" textLength="24.1" lengthAdjust="spacingAndGlyphs">TM</text><text class="p" x="138.0" y="456.7" textLength="47" lengthAdjust="spacingAndGlyphs">76,2%</text>
<text class="c" style="stroke-width:0.61px" x="211.0" y="502.2" textLength="17.2" lengthAdjust="spacingAndGlyphs">CS</text><text class="p" x="211.0" y="525.2" textLength="47" lengthAdjust="spacingAndGlyphs">70,9%</text>
<text class="c" style="stroke-width:0.45px" x="291.5" y="434.2" textLength="22.0" lengthAdjust="spacingAndGlyphs">HD</text><text class="p" x="291.5" y="457.2" textLength="47" lengthAdjust="spacingAndGlyphs">75,1%</text>
<text class="c" style="stroke-width:0.48px" x="336.5" y="378.2" textLength="20.3" lengthAdjust="spacingAndGlyphs">AB</text><text class="p" x="349.5" y="401.7" textLength="47" lengthAdjust="spacingAndGlyphs">78,0%</text>
<text class="c" style="stroke-width:0.45px" x="437.0" y="346.7" textLength="23.6" lengthAdjust="spacingAndGlyphs">MS</text><text class="p" x="438.0" y="370.2" textLength="47" lengthAdjust="spacingAndGlyphs">71,7%</text>
<text class="c" style="stroke-width:0.58px" x="408.5" y="426.7" textLength="17.8" lengthAdjust="spacingAndGlyphs">SB</text><text class="p" x="408.5" y="449.2" textLength="47" lengthAdjust="spacingAndGlyphs">76,6%</text>
<text class="c" style="stroke-width:0.45px" x="498.0" y="427.2" textLength="20.0" lengthAdjust="spacingAndGlyphs">BV</text><text class="p" x="496.5" y="450.2" textLength="47" lengthAdjust="spacingAndGlyphs">78,7%</text>
<text class="c" style="stroke-width:0.51px" x="402.0" y="508.2" textLength="17.4" lengthAdjust="spacingAndGlyphs">VL</text><text class="p" x="402.5" y="532.2" textLength="47" lengthAdjust="spacingAndGlyphs">77,7%</text>
<text class="c" style="stroke-width:0.45px" x="463.0" y="510.2" textLength="21.7" lengthAdjust="spacingAndGlyphs">AG</text><text class="p" x="464.0" y="533.2" textLength="47" lengthAdjust="spacingAndGlyphs">77,5%</text>
<text class="c" style="stroke-width:0.61px" x="329.5" y="519.2" textLength="16.6" lengthAdjust="spacingAndGlyphs">GJ</text><text class="p" x="330.0" y="543.2" textLength="47" lengthAdjust="spacingAndGlyphs">75,7%</text>
<text class="c" style="stroke-width:0.45px" x="525.0" y="340.2" textLength="20.8" lengthAdjust="spacingAndGlyphs">HR</text><text class="p" x="526.0" y="363.2" textLength="47" lengthAdjust="spacingAndGlyphs">72,9%</text>
<text class="c" style="stroke-width:0.56px" x="636.5" y="355.2" textLength="18.9" lengthAdjust="spacingAndGlyphs">BC</text><text class="p" x="637.0" y="378.2" textLength="47" lengthAdjust="spacingAndGlyphs">75,9%</text>
<text class="c" style="stroke-width:0.50px" x="730.0" y="341.7" textLength="18.4" lengthAdjust="spacingAndGlyphs">VS</text><text class="p" x="730.0" y="365.7" textLength="47" lengthAdjust="spacingAndGlyphs">63,8%</text>
<text class="c" style="stroke-width:0.49px" x="576.5" y="415.2" textLength="19.4" lengthAdjust="spacingAndGlyphs">CV</text><text class="p" x="577.0" y="438.2" textLength="47" lengthAdjust="spacingAndGlyphs">71,5%</text>
<text class="c" style="stroke-width:0.45px" x="653.0" y="425.2" textLength="21.8" lengthAdjust="spacingAndGlyphs">VN</text><text class="p" x="653.0" y="448.7" textLength="47" lengthAdjust="spacingAndGlyphs">71,7%</text>
<text class="c" style="stroke-width:0.55px" x="733.0" y="422.2" textLength="18.3" lengthAdjust="spacingAndGlyphs">GL</text><text class="p" x="733.0" y="445.2" textLength="47" lengthAdjust="spacingAndGlyphs">80,2%</text>
<text class="c" style="stroke-width:0.53px" x="641.0" y="485.7" textLength="17.9" lengthAdjust="spacingAndGlyphs">BZ</text><text class="p" x="641.0" y="508.7" textLength="47" lengthAdjust="spacingAndGlyphs">74,3%</text>
<text class="c" style="stroke-width:0.45px" x="573.0" y="504.2" textLength="20.2" lengthAdjust="spacingAndGlyphs">PH</text><text class="p" x="573.0" y="527.2" textLength="47" lengthAdjust="spacingAndGlyphs">82,5%</text>
<text class="c" style="stroke-width:0.52px" x="729.0" y="501.7" textLength="19.5" lengthAdjust="spacingAndGlyphs">BR</text><text class="p" x="728.0" y="525.2" textLength="47" lengthAdjust="spacingAndGlyphs">83,4%</text>
<text class="c" style="stroke-width:0.58px" x="804.0" y="511.7" textLength="15.6" lengthAdjust="spacingAndGlyphs">TL</text><text class="p" x="804.0" y="535.2" textLength="47" lengthAdjust="spacingAndGlyphs">72,0%</text>
<text class="c" style="stroke-width:0.54px" x="784.5" y="603.2" textLength="17.6" lengthAdjust="spacingAndGlyphs">CT</text><text class="p" x="784.5" y="626.2" textLength="47" lengthAdjust="spacingAndGlyphs">74,5%</text>
<text class="c" style="stroke-width:0.45px" x="289.5" y="572.2" textLength="26.6" lengthAdjust="spacingAndGlyphs">MH</text><text class="p" x="290.0" y="595.2" textLength="47" lengthAdjust="spacingAndGlyphs">69,5%</text>
<text class="c" style="stroke-width:0.57px" x="353.0" y="617.2" textLength="16.4" lengthAdjust="spacingAndGlyphs">DJ</text><text class="p" x="354.0" y="640.2" textLength="47" lengthAdjust="spacingAndGlyphs">73,3%</text>
<text class="c" style="stroke-width:0.46px" x="524.0" y="541.2" textLength="20.7" lengthAdjust="spacingAndGlyphs">DB</text><text class="p" x="524.0" y="565.2" textLength="47" lengthAdjust="spacingAndGlyphs">69,2%</text>
<text class="c" style="stroke-width:0.45px" x="435.5" y="596.2" textLength="20.4" lengthAdjust="spacingAndGlyphs">OT</text><text class="p" x="435.5" y="618.7" textLength="47" lengthAdjust="spacingAndGlyphs">74,8%</text>
<text class="c" style="stroke-width:0.51px" x="497.0" y="632.2" textLength="18.3" lengthAdjust="spacingAndGlyphs">TR</text><text class="p" x="497.0" y="655.2" textLength="47" lengthAdjust="spacingAndGlyphs">62,4%</text>
<text class="c" style="stroke-width:0.49px" x="565.5" y="621.2" textLength="20.9" lengthAdjust="spacingAndGlyphs">GR</text><text class="p" x="566.0" y="643.7" textLength="47" lengthAdjust="spacingAndGlyphs">70,7%</text>
<text class="c" style="stroke-width:0.62px" x="664.0" y="598.2" textLength="16.3" lengthAdjust="spacingAndGlyphs">CL</text><text class="p" x="663.0" y="621.2" textLength="47" lengthAdjust="spacingAndGlyphs">63,5%</text>
<text class="c" style="stroke-width:0.52px" x="586.0" y="601.2" textLength="12.1" lengthAdjust="spacingAndGlyphs">IF</text><text class="p" x="586.0" y="578.7" textLength="47" lengthAdjust="spacingAndGlyphs">76,2%</text>
<text class="p" x="689" y="571.2" textLength="62.5" lengthAdjust="spacingAndGlyphs">IL 68,3%</text>
</g>
<rect x="51" y="714" width="868.5" height="23.5" fill="#000" opacity="0.38" filter="url(#sh)"/>
<g filter="url(#bt)"><rect x="48.7" y="710.6" width="868.8" height="24" fill="url(#lg)"/><rect x="48.7" y="710.6" width="868.8" height="24" fill="#fff" opacity="0.62"/>
<rect x="50.8" y="712.6" width="864.4" height="19.6" fill="url(#lg)"/></g>
<g filter="url(#bt)"><text x="51" y="759.7" font-size="17px" fill="#2b2b2b" textLength="125.5" lengthAdjust="spacingAndGlyphs">Procentaj scăzut</text>
<text x="785.5" y="759.7" font-size="17px" fill="#2b2b2b" textLength="126.5" lengthAdjust="spacingAndGlyphs">Procentaj ridicat</text></g>
<rect x="23" y="27" width="977" height="15" fill="url(#sT)"/>
<rect x="23" y="755" width="977" height="15" fill="url(#sB)"/>
<rect x="23" y="27" width="15" height="743" fill="url(#sL)"/>
<rect x="985" y="27" width="15" height="743" fill="url(#sR)"/>
</svg></body></html>
